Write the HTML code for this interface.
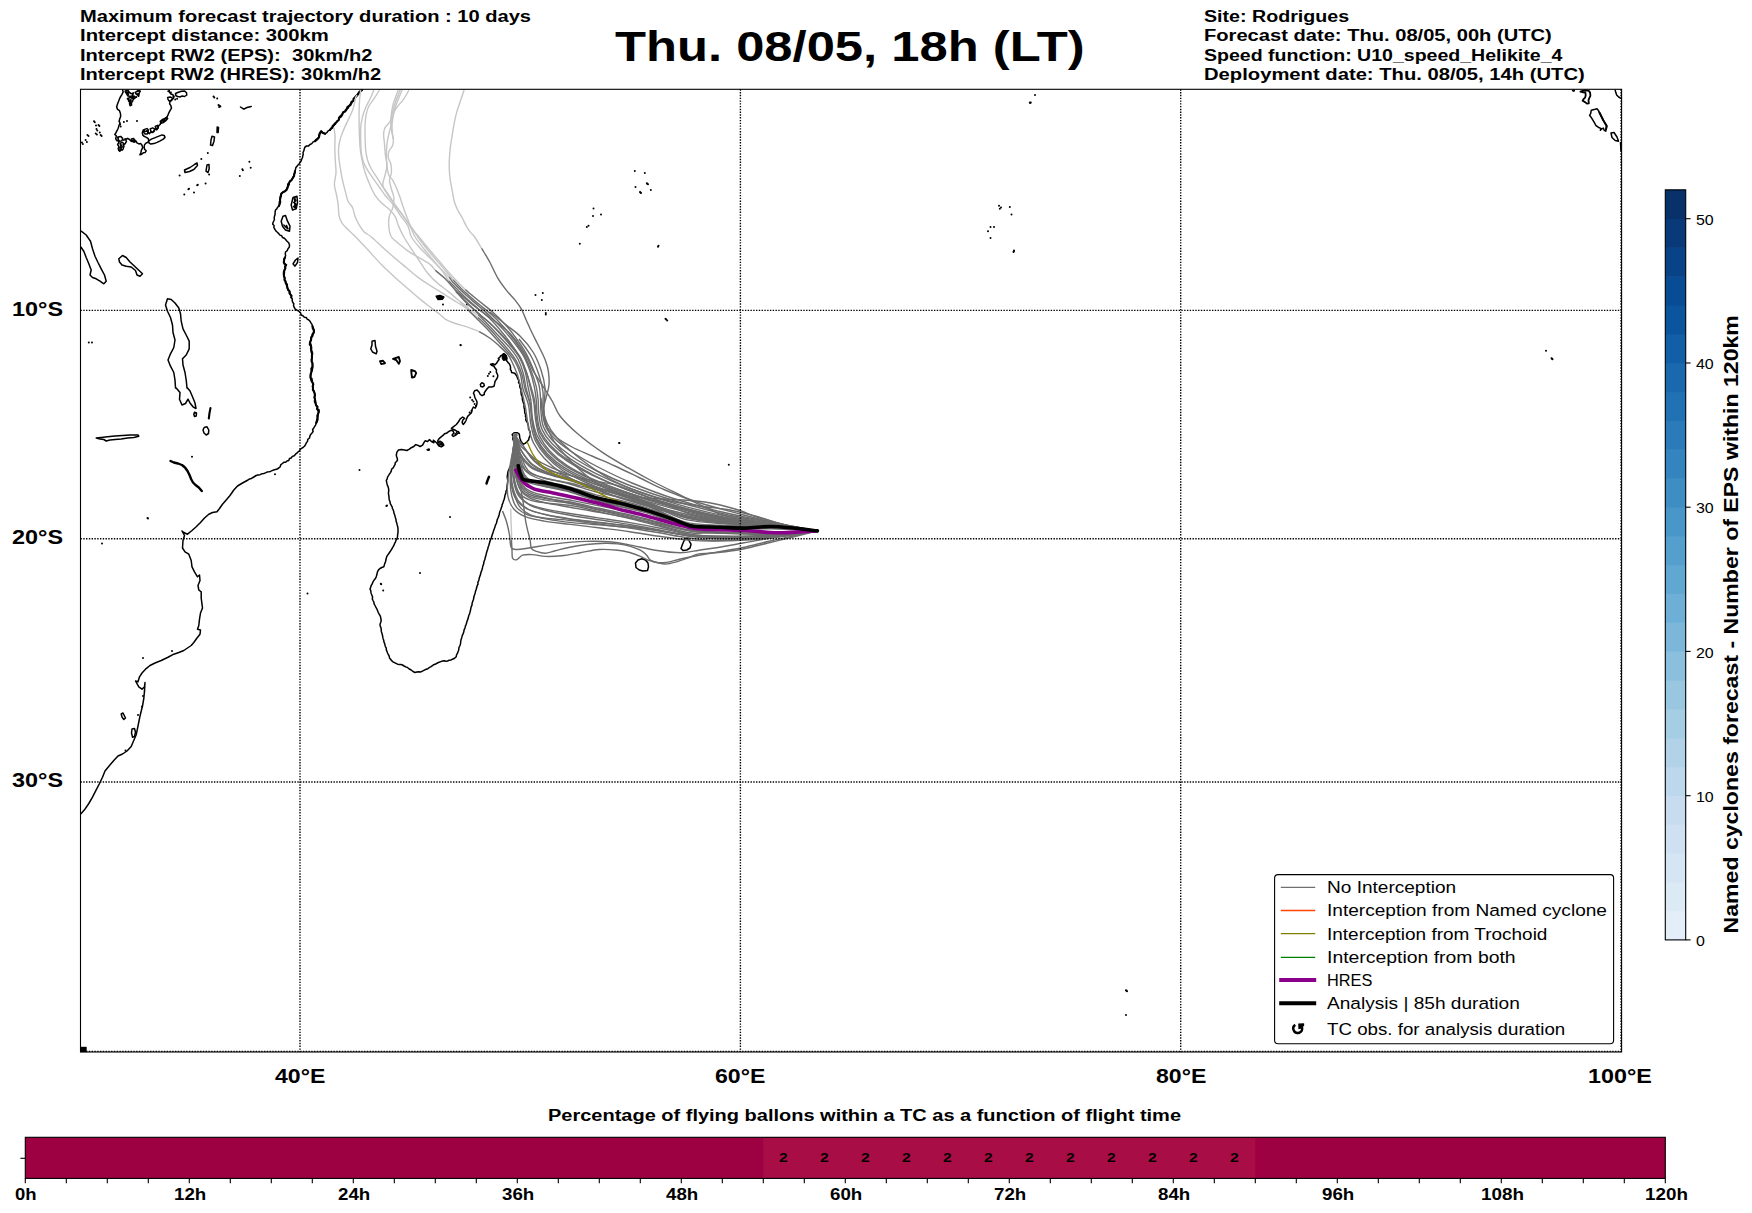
<!DOCTYPE html>
<html><head><meta charset="utf-8"><title>Forecast trajectories</title>
<style>
html,body{margin:0;padding:0;background:#fff}
body{width:1752px;height:1213px;position:relative;overflow:hidden;font-family:"Liberation Sans",sans-serif}
svg{position:absolute;left:0;top:0}
.t{position:absolute;white-space:pre;line-height:1;transform-origin:0 0;color:#000}
</style></head><body>
<svg width="1752" height="1213" viewBox="0 0 1752 1213">
<defs><clipPath id="mc"><rect x="80.5" y="89.3" width="1541.1" height="962.7"/></clipPath></defs>
<g clip-path="url(#mc)">
<g fill="none" stroke="#000" stroke-width="1.5" stroke-linejoin="round" stroke-linecap="round">
<path d="M362.0 90.0L360.8 91.2L359.4 92.3L358.7 94.0L357.3 95.0L355.7 95.8L355.0 97.5L353.5 98.6L353.4 100.7L352.2 102.1L351.4 103.7L349.9 104.8L348.8 106.2L348.3 108.0L346.7 108.8L345.5 109.9L344.8 111.5L343.3 112.3L342.5 113.8L341.3 115.1L341.0 117.1L339.3 118.1L338.6 119.8L337.4 121.1L336.2 122.5L335.5 124.0L333.9 124.8L333.2 126.3L332.5 127.8L331.0 128.7L330.0 130.0L328.1 130.9L326.8 132.7L325.0 133.8L322.9 132.8L321.2 131.2L320.8 132.9L319.4 134.1L318.7 135.7L318.8 137.5L317.3 138.6L315.8 139.6L315.0 141.2L313.1 141.9L311.8 143.6L310.0 144.5L308.6 145.9L306.6 146.0L305.0 147.0L304.3 148.8L303.9 150.7L303.0 152.5L303.2 154.2L302.8 155.8L302.5 157.5L301.7 159.2L301.1 161.0L300.0 162.5L299.2 163.9L298.0 165.0L297.0 166.2L295.8 167.7L295.5 169.5L295.0 171.2L294.8 172.9L294.3 174.5L293.6 176.0L293.0 177.5L292.3 179.0L291.3 180.3L290.0 181.2L289.3 182.9L289.2 184.8L288.0 186.2L287.0 187.9L286.2 189.7L285.0 191.2L283.0 192.2L281.2 193.8L280.5 195.8L280.1 197.9L280.0 200.0L279.3 202.0L279.4 204.2L278.8 206.2L277.5 207.3L276.8 208.9L275.5 210.0L275.1 212.1L275.1 214.2L274.5 216.2L274.2 217.8L274.4 219.5L273.8 221.0L273.0 222.5L272.7 224.2L274.1 225.5L273.8 227.3L274.5 228.8L275.4 230.1L276.4 231.5L277.7 232.5L278.8 233.8L279.9 235.1L281.7 235.8L282.5 237.5L284.4 238.3L285.8 239.7L287.0 241.2L288.7 242.8L289.5 245.0L289.3 247.1L288.0 248.8L287.2 250.7L285.5 252.0L285.3 253.8L285.6 255.7L285.0 257.5L283.9 259.0L283.9 260.8L283.8 262.5L285.0 263.8L286.2 265.0L285.4 266.6L285.4 268.5L284.5 270.0L283.6 271.6L283.5 273.3L283.8 275.0L283.9 276.7L284.7 278.1L284.6 279.8L285.5 281.2L285.6 283.0L286.3 284.7L287.0 286.2L287.3 288.2L288.5 289.7L289.5 291.2L290.1 292.8L290.3 294.4L291.3 295.8L291.2 297.5L292.3 298.9L292.2 300.8L292.7 302.3L293.8 303.8L293.5 305.6L294.1 307.2L295.0 308.8L296.8 310.1L298.8 311.2L300.5 312.8L301.2 315.0L302.9 315.8L304.3 317.2L306.2 317.5L307.2 319.1L308.8 320.0L310.0 321.2L310.9 322.9L312.0 324.4L312.5 326.2L313.4 328.2L314.0 330.3L313.8 332.5L312.4 333.9L311.9 335.7L311.2 337.5L311.4 339.3L310.5 340.9L310.0 342.5L311.0 344.3L311.1 346.2L310.6 348.2L311.2 350.0L311.2 351.9L311.7 353.7L312.1 355.6L312.0 357.5L311.9 359.4L311.6 361.3L312.5 363.1L312.5 365.0L312.8 367.0L312.5 368.9L312.2 370.7L311.2 372.5L310.3 374.1L310.7 375.8L310.5 377.5L310.7 379.4L312.3 380.6L312.5 382.5L313.0 384.3L312.5 386.2L313.0 388.0"/>
<path d="M293.0 197.5L297.0 196.2L297.5 202.5L296.2 208.8L292.5 210.0L291.2 205.0Z"/>
<path d="M283.0 216.2L285.5 215.5L287.5 221.2L290.0 226.2L289.5 231.2L285.5 230.0L282.5 226.2L281.2 221.2Z"/>
<path d="M293.0 263.8L295.5 260.0L298.0 258.0L297.5 262.5L295.0 266.2Z"/>
<path d="M80.0 231.2L81.2 231.2L86.2 235.0L90.5 241.2L92.5 248.8L95.0 256.2L98.0 262.5L101.2 268.8L104.5 275.0L106.2 281.2L103.8 283.8L100.0 281.2L96.2 278.8L92.5 277.5L90.0 275.0L91.2 270.0L88.8 263.8L86.2 257.5L83.8 251.2L81.2 247.5L80.0 246.2"/>
<path d="M118.8 258.8L122.5 255.5L126.2 257.5L130.0 262.0L133.8 265.5L138.0 269.5L142.5 273.8L140.0 276.2L137.0 275.0L135.5 270.5L131.2 267.0L126.2 266.2L122.0 265.0L119.5 262.0Z"/>
<path d="M175.5 388.0L175.0 380.0L173.8 372.5L170.5 366.2L168.0 360.0L170.5 353.8L173.8 347.5L175.0 340.0L173.0 332.5L172.5 325.0L170.5 317.5L167.5 311.2L165.5 305.0L167.5 298.8L171.2 299.5L175.0 303.0L178.8 308.0L180.5 313.8L181.2 321.2L183.0 328.8L186.2 335.0L189.2 341.2L189.2 348.8L186.2 355.0L182.5 358.8L183.0 365.0L185.0 372.5L186.2 380.0L187.0 388.0"/>
<path d="M122.6 90.0L123.2 91.9L122.0 94.4L120.1 97.5L118.8 100.7L117.6 103.8L116.6 106.9L117.6 109.4L119.5 110.7L120.4 113.2L120.7 116.3L119.8 118.8L119.1 121.3L120.1 123.2L119.1 125.1L118.2 128.2L117.0 130.7L115.7 133.2L114.8 134.5L116.3 135.8L115.7 138.9L117.0 140.8L118.2 140.1L118.8 142.6L117.6 144.5L118.8 146.4L118.2 148.9L119.5 150.8L120.7 149.2L122.0 150.2L123.2 148.9L123.9 146.4L123.2 144.5L125.1 143.9L126.4 141.4L125.7 139.5L127.6 138.3L129.5 139.5L131.4 141.4L133.3 140.1L134.5 142.0L135.8 140.8L137.0 142.9L138.9 143.9L140.8 143.6L142.0 145.2L142.7 147.7L141.4 150.2L140.8 152.7L139.9 154.9L141.7 154.2L143.3 152.7L145.2 152.4L146.2 150.8L144.5 149.2L144.2 147.0L144.5 144.9L145.8 143.3L147.7 142.4L148.7 140.8L148.3 138.6L146.4 137.4L144.2 136.4L142.7 134.9L142.3 132.6L143.3 130.4L145.2 129.1L147.0 128.6L148.3 130.1L147.7 132.4L149.5 133.6L150.8 132.0L152.7 132.6L153.9 130.7L155.2 128.9L156.7 129.9L157.9 128.2L158.7 125.7L160.2 124.5L160.8 122.3L162.5 120.7L164.0 121.3L165.0 119.1L166.5 117.8L167.7 115.7L168.7 113.2L170.0 110.7L171.5 108.2L170.9 105.7L169.6 103.8L170.0 101.3L171.5 99.8L173.4 98.5L174.0 96.5L173.0 94.8L170.9 94.0L169.6 92.3L169.2 90.3"/>
<path d="M148.7 140.8L151.4 139.1L155.2 137.6L158.9 136.1L162.1 134.9L164.2 135.4L165.0 137.4L163.3 139.1L160.2 140.8L157.1 142.4L153.9 143.6L150.8 144.1L148.9 142.9Z"/>
<path d="M175.5 93.5L178.4 92.3L181.5 91.3L184.6 91.0L186.5 92.8L186.8 95.0L184.6 96.5L182.1 96.0L180.3 96.9L177.7 96.5L175.9 95.7Z"/>
<path d="M126.4 92.5L128.9 91.9L131.4 93.8L133.3 92.8L132.6 95.7L130.1 96.5L127.6 95.7Z"/>
<path d="M128.2 98.2L130.8 97.5L133.3 99.0L132.4 101.9L130.1 102.8L128.6 101.0Z"/>
<path d="M129.5 103.5L131.4 103.2L131.6 105.1L130.1 105.7Z"/>
<path d="M135.1 92.5L138.3 90.6L140.2 91.3L138.9 93.5L136.4 94.4Z"/>
<path d="M143.3 130.1L145.2 131.6L147.0 130.7L148.7 132.6L147.0 134.1L144.9 133.9L143.7 132.4Z"/>
<path d="M150.2 128.9L152.7 127.9L154.9 129.1L153.9 131.6L151.4 132.4Z"/>
<path d="M155.2 126.4L157.4 125.4L158.3 127.6L156.4 129.1Z"/>
<path d="M118.2 137.0L120.7 136.4L122.6 138.3L122.0 140.8L119.8 141.4L118.2 139.5Z"/>
<path d="M120.1 143.3L122.6 142.4L124.1 144.1L123.2 146.7L121.1 147.4Z"/>
<path d="M118.8 147.7L120.7 147.0L121.4 149.5L119.8 151.2L118.6 149.9Z"/>
<path d="M131.4 139.1L133.6 138.6L135.1 140.4L133.9 142.0L132.0 141.4Z"/>
<path d="M160.2 121.3L162.1 119.8L164.2 118.8L166.5 117.3L167.7 118.6L165.8 120.7L163.3 122.6L161.2 123.2Z"/>
<path d="M167.7 97.5L170.2 96.9L172.5 98.2L171.5 100.7L169.2 101.0L168.0 99.4Z"/>
<path d="M294.0 198.8L296.0 200.5L293.8 202.5L296.5 204.5L293.5 206.5L296.0 208.0"/>
<path d="M295.0 197.5L294.5 202.5L295.5 207.5"/>
<path d="M283.8 225.0L286.2 227.5L288.0 228.8L286.5 225.5"/>
<path d="M125.1 91.0L126.6 93.8L129.1 92.8L128.2 90.6Z"/>
<path d="M132.0 96.9L134.1 96.0L135.8 97.5L133.9 99.0Z"/>
<path d="M137.0 94.4L139.1 94.0L138.6 96.3Z"/>
<path d="M129.1 100.0L131.1 101.0L129.9 102.5Z"/>
<path d="M217.2 127.0L218.5 127.5L218.2 132.5L217.0 132.5Z"/>
<path d="M212.0 136.2L214.5 137.0L214.0 141.2L212.5 145.5L210.5 145.0L211.0 140.0Z"/>
<path d="M184.5 170.0L190.0 167.5L194.5 164.5L197.0 163.0L197.5 165.5L193.8 169.5L189.5 171.5L185.0 172.5Z"/>
<path d="M207.0 165.0L209.0 164.5L209.2 168.8L208.0 172.5L206.0 171.2Z"/>
<path d="M240.5 107.0L243.8 109.2L247.0 107.5L251.2 106.5"/>
<path d="M372.0 341.2L375.0 340.5L375.5 346.2L377.0 351.2L376.2 353.8L372.5 352.0L370.8 348.8L372.0 345.0Z"/>
<path d="M380.0 361.2L383.0 360.8L385.0 363.2L381.2 364.0Z" stroke-width="1.9"/>
<path d="M393.0 358.8L398.8 357.0L400.0 361.2L398.8 363.8L396.2 360.0Z" stroke-width="1.9"/>
<path d="M411.2 370.0L415.0 371.2L416.2 373.0L414.5 377.0L412.0 377.5L411.5 373.8Z" stroke-width="1.9"/>
<path d="M436.2 296.2L440.0 295.5L443.8 297.0L442.5 299.2L438.0 299.5Z" fill="#000"/>
<path d="M313.0 388.0L312.9 389.8L314.2 391.3L314.5 393.0L315.3 395.0L314.3 397.2L315.0 399.2L315.7 401.3L315.5 403.5L316.2 405.5L317.4 406.9L317.2 408.7L317.6 410.4L318.8 411.8L318.0 413.8L318.1 416.0L317.5 418.0L316.8 419.6L317.2 421.5L316.2 423.0L315.7 424.8L314.7 426.4L313.8 428.0L312.6 429.5L313.1 431.5L312.0 433.0L310.7 434.4L309.9 436.1L309.5 438.0L307.8 439.3L307.5 441.4L306.2 443.0L305.5 444.8L304.4 446.2L303.0 447.5L301.5 448.3L300.2 449.3L299.5 451.0L298.0 451.9L296.8 453.2L295.5 454.2L294.3 455.7L292.3 456.4L291.2 458.0L289.5 458.5L288.8 460.5L287.0 461.0L285.7 462.2L283.8 462.2L282.5 463.5L280.8 464.7L280.2 466.7L278.8 468.0L277.2 469.0L275.5 469.4L273.8 470.0L272.1 470.6L270.5 471.4L268.8 471.8L267.0 472.1L265.4 472.9L263.8 473.5L261.8 473.8L260.0 474.7L258.0 475.0L256.2 475.5L254.6 476.5L253.0 477.5L251.4 478.4L249.5 478.9L248.0 480.0L242.5 483.0L237.5 486.0L233.8 490.0L230.0 495.5L226.2 500.0L222.5 504.2L219.5 508.5L217.0 511.8L212.5 512.5L208.8 514.2L204.5 518.0L200.5 522.5L196.2 526.8L192.0 530.5L187.5 534.2L183.8 532.5L182.0 531.0L184.5 535.5L183.0 540.5L182.5 548.0L185.0 551.8L188.8 554.2L191.2 560.5L192.0 566.8L194.5 571.8L197.5 576.8L199.5 575.0L200.0 580.5L198.0 585.5L198.8 590.0L201.2 591.8L201.2 598.0L202.0 604.2L202.5 608.0L200.5 613.0L199.5 619.2L198.8 625.5L197.5 629.2L200.5 630.0L200.0 634.2L197.0 638.0L193.8 642.5L191.2 645.5L187.5 648.0L183.8 650.5L178.8 652.5L173.8 654.2L167.5 657.5L161.2 660.5L155.0 663.0L150.0 665.5L145.5 669.2L142.0 673.0L139.5 676.8L138.0 681.8L135.5 681.0L138.8 686.8L142.0 689.2L144.5 686.8L145.0 682.5L144.5 691.0"/>
<path d="M176.2 388.0L180.0 392.5L179.5 399.2L182.0 405.0L185.5 403.5L188.0 399.2L190.0 403.0L193.0 406.8L196.0 408.5L195.0 403.0L192.5 396.8L190.0 391.0L187.5 388.0"/>
<path d="M194.5 412.2L196.5 413.0L196.2 416.0L194.5 416.5L193.8 414.2Z"/>
<path d="M204.2 427.5L207.0 426.8L208.8 430.0L208.5 433.5L206.2 435.0L204.0 433.0L203.0 430.0Z"/>
<path d="M210.5 408.0L209.5 413.0L208.8 418.5" stroke-width="2.1"/>
<path d="M96.2 438.0L101.2 437.5L107.5 436.8L115.0 436.0L122.5 435.5L130.0 435.0L138.0 435.0L138.8 436.2L133.8 437.5L127.5 438.0L121.2 439.0L115.0 439.5L110.0 440.0L106.2 441.0L103.8 439.5L100.0 439.0Z"/>
<path d="M170.5 461.0L173.8 462.5L178.0 463.5L182.0 465.0L185.0 467.5L187.5 471.0L189.5 475.0L191.2 479.2L193.0 482.5L195.5 485.0L198.8 487.5L201.8 491.0" stroke-width="2.4"/>
<path d="M489.0 476.8L487.5 480.5L486.5 483.5" stroke-width="2.4"/>
<path d="M144.5 691.0L143.8 698.5L142.5 706.0L140.0 716.0L138.0 726.0L136.2 734.8L133.0 742.2L131.2 746.5L127.0 751.0L122.5 754.0L118.0 756.0L113.8 760.5L109.5 765.5L105.0 771.0L102.5 777.2L99.5 783.5L96.2 789.8L92.5 797.2L88.8 803.5L84.5 809.8L80.0 814.8"/>
<path d="M121.2 714.0L123.0 713.0L124.5 716.0L125.5 718.0L123.8 719.5L122.0 717.0Z"/>
<path d="M132.0 729.0L134.5 728.5L135.5 732.2L134.5 736.5L132.5 737.2L131.5 733.0Z"/>
<path d="M635.5 563.0L638.0 560.0L641.8 558.8L645.5 560.0L648.0 563.0L648.5 566.8L647.5 570.5L643.0 571.0L639.2 570.0L636.0 567.5Z"/>
<path d="M686.0 538.5L688.0 538.0L689.2 541.0L691.0 544.2L690.0 548.0L686.8 550.0L683.0 550.5L681.0 548.5L682.5 544.2L684.2 540.5Z"/>
<path d="M393.8 511.9L393.3 510.1L392.5 508.5L392.1 506.8L391.3 505.4L390.3 503.6L390.0 501.6L389.2 499.8L389.0 497.8L388.9 495.9L388.5 494.1L388.5 492.2L388.8 490.3L388.5 488.4L388.1 486.6L387.3 485.1L386.9 483.4L386.3 480.3L387.2 478.9L387.5 477.2L388.5 475.6L389.4 474.0L390.5 472.6L391.3 470.9L391.7 469.0L393.2 467.8L394.1 466.2L395.0 464.6L395.2 462.8L396.5 461.5L397.5 460.1L397.3 458.4L396.7 456.8L396.3 455.2L396.9 452.1L398.5 450.0L401.3 449.6L404.4 450.0L406.9 450.5L409.4 449.2L411.3 447.7L413.8 446.5L415.7 444.6L417.6 445.2L420.1 446.5L422.6 445.2L423.9 442.7L425.1 440.8L427.6 441.5L429.5 439.6L431.4 441.5L433.9 442.7L433.3 440.2L435.1 441.5L437.0 443.3L438.9 445.8L441.4 446.7L443.7 445.2L442.0 443.3L438.9 442.7L437.6 440.8L438.9 438.9L440.8 437.1L443.3 435.2L444.5 433.7L446.4 433.3L448.9 431.4L451.4 430.2L453.1 431.0L453.9 432.7L452.1 435.2L453.3 436.4L454.9 435.6L456.4 434.6L457.8 433.3L459.6 433.3L458.3 431.4L456.6 431.2L455.2 430.2L453.3 429.3L451.4 428.3L453.9 426.4L456.4 424.5L458.3 422.0L459.3 420.5L460.2 418.9L462.7 417.0L464.6 418.3L462.7 420.2L462.1 422.7L463.3 424.5L465.2 422.0L466.0 420.5L466.5 418.9L467.7 416.4L469.6 414.5L471.5 412.6L472.1 409.5L473.4 407.0L475.2 408.2L476.5 405.7L477.1 402.6L476.7 401.0L475.9 399.5L475.1 398.0L474.6 396.3L474.2 394.7L473.4 393.2L474.6 390.7L477.1 390.1L479.0 392.0L480.3 394.5L482.1 395.7L484.3 394.5L484.3 392.7L485.3 391.3L487.1 388.8L489.0 386.9L491.5 386.9L494.0 386.3L494.7 383.2L495.0 381.5L495.9 380.1L497.5 377.5L497.8 375.6L497.2 373.8L496.3 372.0L496.5 370.0L494.7 367.5L493.7 366.0L491.5 365.3L490.5 364.2L492.8 363.7L495.1 364.7L496.5 363.3L497.9 361.0L499.2 359.6L498.3 358.3L499.7 357.4L500.6 356.0L502.0 355.1L503.8 353.7L506.1 355.5L507.0 358.3L506.5 360.5L507.9 362.4L509.3 363.7L510.2 365.6L510.6 367.9L510.3 369.4L511.3 370.8L511.6 372.5L514.7 373.2L516.6 375.7L517.2 377.2L517.8 378.8L518.9 380.6L518.5 382.6L519.8 384.2L519.7 386.3L520.2 388.0L521.1 389.5L521.0 391.3L521.1 393.1L521.4 394.8L522.2 396.3L522.3 398.0L522.4 399.7L522.9 401.4L523.4 403.0L524.2 404.6L523.9 406.4L524.2 408.0L524.6 409.7L524.7 411.4L524.8 413.1L525.7 414.7L525.4 416.4L526.2 418.0L525.7 419.8L526.6 421.4L527.6 423.0L528.0 424.7L528.5 426.4L528.5 428.8L529.7 430.8L530.4 433.9L530.1 435.9L529.1 437.7L528.7 439.8L527.2 441.5L525.4 443.3L522.9 444.2L522.2 442.7L521.0 441.5L520.4 439.5L519.7 437.7L519.6 435.8L519.1 433.9L517.2 432.7L514.1 432.7L512.2 434.6L513.2 436.7L512.8 438.9L513.6 441.1L514.1 443.3L515.1 445.4L514.7 447.7L515.9 449.4L516.3 451.5L516.2 453.7L516.6 455.9L516.6 458.2L515.3 460.3L515.0 462.2L514.1 464.0L511.6 465.9L509.8 467.0L509.1 469.0L508.3 470.8L507.8 472.8L507.5 474.7L507.2 476.5L507.4 478.4L507.8 480.3L507.6 482.2L507.4 484.2L507.1 486.1L507.0 488.0L506.7 489.7L506.0 491.3L505.9 493.0L505.2 494.6L504.8 496.3L504.5 498.0L504.0 499.7L503.4 501.3L502.9 503.0L502.2 504.6L501.9 506.4L501.2 508.0L500.7 509.7L500.0 511.3L499.5 512.9L499.2 514.7L498.6 516.4L498.0 518.0L497.2 519.7L496.9 521.5L496.4 523.3L495.5 525.0L495.0 526.8L494.4 528.5L493.7 530.2L493.2 532.0L492.6 533.7L492.0 535.5L491.5 537.2L491.0 538.9L490.2 540.5L489.8 542.1L489.2 543.8L488.8 545.5L488.1 547.2L487.8 549.0L487.1 550.7L486.6 552.5L486.2 554.2L485.7 556.0L485.2 557.7L484.9 559.5L484.1 561.2L483.8 563.0L483.4 564.8L482.7 566.5L482.4 568.3L481.9 570.0L481.2 571.8L480.7 573.5L480.3 575.3L479.6 577.0L479.1 578.7L478.8 580.5L477.9 582.2L478.0 584.1L477.2 585.7L476.7 587.5L476.2 589.2L475.6 591.0L475.2 592.7L474.7 594.5L474.0 596.2L473.8 598.0L473.3 599.8L472.7 601.5L472.1 603.2L472.0 605.1L471.2 606.8L470.8 608.5L470.5 610.3L470.0 612.1L469.6 613.8L468.8 615.5L468.4 617.3L467.9 619.1L467.2 620.7L466.7 622.5L466.2 624.2L465.4 626.1L465.0 628.0L464.1 629.8L463.8 631.8L463.2 633.6L462.3 635.4L461.8 637.4L461.2 639.2L460.7 641.3L460.6 643.4L460.0 645.5L459.2 647.0L458.8 648.6L458.7 650.3L458.0 651.8L457.4 653.4L456.5 655.0L456.2 656.8L454.6 658.3L452.5 659.2L450.9 660.0L449.1 660.3L447.5 661.0L445.8 661.3L444.2 660.8L442.5 661.0L440.8 661.6L439.1 662.2L437.5 663.0L435.6 664.0L433.7 664.7L432.0 666.0L430.6 666.9L429.1 667.6L427.8 668.7L426.2 669.2L424.3 670.1L422.4 671.1L420.5 672.0L418.6 671.8L416.8 672.0L415.0 672.5L413.0 671.5L411.2 670.0L409.2 669.0L407.5 667.5L405.7 666.9L404.1 666.0L402.5 665.0L400.9 664.6L399.2 664.5L397.5 664.2L396.0 663.4L394.5 662.6L393.0 661.8L391.6 660.7L390.6 659.3L389.5 658.0L389.2 656.2L388.4 654.6L387.5 653.0L387.0 651.4L386.3 649.9L386.3 648.2L385.5 646.8L385.0 645.2L384.7 643.6L384.0 642.1L383.8 640.5L383.2 638.9L382.8 637.2L382.5 635.5L382.0 633.4L381.3 631.4L381.2 629.2L380.9 627.6L380.2 626.0L380.0 624.2L380.7 622.4L381.2 620.5L380.9 618.8L380.6 617.1L380.0 615.5L379.0 613.9L378.2 612.2L377.5 610.5L376.8 608.8L375.8 607.2L375.0 605.5L374.1 603.9L373.9 602.1L373.0 600.5L372.3 598.9L372.6 597.1L372.0 595.5L371.4 594.0L370.9 592.4L370.8 590.7L370.0 589.2L370.6 587.4L371.2 585.5L372.2 583.9L372.9 582.1L373.8 580.5L375.2 578.8L376.2 576.8L376.8 575.1L377.1 573.4L377.5 571.8L378.5 569.9L380.0 568.5L381.8 567.5L383.8 566.8L384.3 565.1L384.8 563.4L385.5 561.8L386.0 559.8L386.3 557.9L387.0 556.0L388.0 554.6L389.0 553.2L390.0 551.8L391.1 550.1L392.1 548.5L393.0 546.8L394.0 545.2L394.6 543.4L395.5 541.8L396.1 540.1L397.1 538.5L397.5 536.8L397.6 534.7L398.0 532.6L398.0 530.5L398.0 528.4L397.6 526.3L397.0 524.2L396.7 522.7L396.1 521.2L396.0 519.5L395.5 518.0L395.0 516.1L394.4 514.3L393.8 512.5Z"/>
<path d="M502.4 355.3L503.8 353.9L505.6 355.6L506.2 357.9L505.8 359.8L503.6 360.2L502.5 358.6Z" fill="#000"/>
<path d="M480.3 384.4L481.8 382.8L483.8 383.6L484.3 385.7L482.8 386.9L480.9 386.6Z"/>
<path d="M437.9 442.1L439.9 441.2L442.4 442.7L443.7 445.0L442.0 446.5L439.5 446.2L437.9 444.2Z"/>
<path d="M1580.4 91.7L1582.6 90.8L1585.7 90.4L1588.8 90.8L1590.1 92.6L1590.4 95.8L1589.5 97.7L1588.5 100.2L1588.8 103.3L1586.9 103.6L1585.1 102.1L1582.6 100.8L1583.5 99.2L1585.1 97.7L1585.7 95.2L1585.4 92.6L1583.2 92.3Z" stroke-width="1.8"/>
<path d="M1591.3 110.2L1593.9 109.6L1597.0 108.7L1598.2 110.2L1599.5 112.7L1601.4 116.5L1603.3 120.3L1605.2 123.4L1606.7 125.9L1606.1 129.1L1605.8 131.2L1604.2 130.3L1603.3 128.1L1601.4 129.1L1600.4 130.3L1600.8 128.4L1598.2 127.2L1595.7 125.3L1594.5 122.8L1592.6 119.6L1591.0 117.1L1589.6 115.6L1590.7 113.4Z"/>
<path d="M1599.5 112.7L1601.4 116.5L1603.3 120.3L1605.2 123.4L1606.7 125.9L1606.1 129.1" stroke-width="2.0"/>
<path d="M1615.2 90.1L1615.8 92.6L1616.8 95.2L1618.7 97.0L1620.8 98.3L1621.6 98.6"/>
<path d="M1611.0 133.0L1614.0 132.5L1617.0 137.0L1618.5 141.2L1615.2 140.5L1612.0 137.5Z"/>
<path d="M1620.5 142.5L1621.0 151.2"/>
<path d="M295.0 171.2L294.7 172.9L294.1 174.4L294.1 176.1L293.0 177.5L292.2 178.9L291.4 180.3L290.0 181.2L289.1 182.8L288.0 184.3L288.0 186.2L287.4 188.2L286.6 189.9L285.0 191.2L282.9 192.2L281.2 193.8L281.0 195.9L280.4 197.9L280.0 200.0L280.2 202.2L279.6 204.3L278.8 206.2L278.8 206.2" stroke-width="2.1"/>
<path d="M285.0 257.5L284.3 259.1L284.0 260.8L283.8 262.5L284.6 264.1L286.2 265.0L285.0 266.4L285.3 268.4L284.5 270.0L284.1 271.6L284.1 273.3L283.8 275.0L284.2 276.6L284.8 278.1L284.4 279.9L285.5 281.2L285.8 283.0L287.0 284.4L287.0 286.2L287.6 288.0L288.0 289.9L289.5 291.2L289.4 293.0L290.3 294.4L291.5 295.7L291.2 297.5L291.2 297.5" stroke-width="2.1"/>
<path d="M362.0 90.0L360.5 90.9L359.2 92.1L358.2 93.5L357.4 95.1L356.3 96.4L355.0 97.5L353.7 98.7L353.4 100.7L351.6 101.6L350.9 103.3L350.4 105.1L348.8 106.2L347.4 107.2L346.8 108.8L346.1 110.4L345.0 111.6L343.1 112.2L342.5 113.8L341.8 115.5L340.1 116.4L339.0 117.9L338.8 120.0L337.3 121.1L336.2 122.5L334.8 123.5L334.1 125.0L332.7 125.9L332.2 127.6L330.9 128.6L330.0 130.0L330.0 130.0" stroke-width="2.1"/>
<path d="M325.0 133.8L322.9 132.9L321.2 131.2L320.1 132.6L319.5 134.2L319.3 135.9L318.8 137.5L317.7 138.9L316.4 140.1L315.0 141.2L315.0 141.2" stroke-width="2.1"/>
<path d="M312.5 326.2L312.8 328.4L313.9 330.3L313.8 332.5L312.9 334.2L312.4 336.0L311.2 337.5L311.1 339.2L310.7 340.9L310.0 342.5L309.8 344.5L311.1 346.2L311.3 348.1L311.2 350.0L311.9 351.8L312.3 353.7L311.9 355.6L312.0 357.5L311.6 359.4L311.6 361.3L312.4 363.1L312.5 365.0L312.3 366.9L311.3 368.7L311.5 370.6L311.2 372.5L310.9 374.2L310.5 375.8L310.5 377.5L311.8 378.9L311.4 381.0L312.5 382.5L313.3 384.3L312.8 386.2L313.0 388.0L312.9 389.9L313.9 391.4L314.5 393.0L314.9 395.1L314.5 397.2L315.0 399.2L314.8 401.5L315.7 403.5L316.2 405.5L317.5 406.8L317.0 408.8L318.8 409.9L318.8 411.8L318.1 413.8L317.3 415.8L317.5 418.0L317.6 419.8L316.6 421.3L316.2 423.0L316.2 423.0" stroke-width="2.1"/>
</g>
<g fill="#000">
<circle cx="88.8" cy="342.5" r="1.0"/>
<circle cx="92.0" cy="342.5" r="1.0"/>
<circle cx="443.0" cy="304.5" r="1.0"/>
<circle cx="467.0" cy="304.5" r="1.0"/>
<circle cx="460.5" cy="345.0" r="1.0"/>
<circle cx="125.7" cy="91.9" r="1.0"/>
<circle cx="128.2" cy="94.4" r="1.0"/>
<circle cx="133.9" cy="97.5" r="1.0"/>
<circle cx="136.4" cy="96.9" r="1.0"/>
<circle cx="127.6" cy="98.8" r="1.0"/>
<circle cx="137.6" cy="91.3" r="1.0"/>
<circle cx="139.5" cy="91.0" r="1.0"/>
<circle cx="130.8" cy="100.0" r="1.0"/>
<circle cx="117.6" cy="137.6" r="1.0"/>
<circle cx="123.9" cy="140.1" r="1.0"/>
<circle cx="121.4" cy="145.2" r="1.0"/>
<circle cx="125.1" cy="138.9" r="1.0"/>
<circle cx="135.1" cy="141.4" r="1.0"/>
<circle cx="161.5" cy="122.6" r="1.0"/>
<circle cx="163.3" cy="120.7" r="1.0"/>
<circle cx="166.5" cy="118.2" r="1.0"/>
<circle cx="173.4" cy="96.3" r="1.0"/>
<circle cx="175.2" cy="99.4" r="1.0"/>
<circle cx="177.1" cy="98.8" r="1.0"/>
<circle cx="170.9" cy="92.5" r="1.0"/>
<circle cx="168.3" cy="91.3" r="1.0"/>
<circle cx="123.9" cy="122.0" r="1.0"/>
<circle cx="127.0" cy="121.1" r="1.0"/>
<circle cx="137.0" cy="121.1" r="1.0"/>
<circle cx="120.1" cy="124.5" r="1.0"/>
<circle cx="120.7" cy="126.4" r="1.0"/>
<circle cx="94.0" cy="121.3" r="1.0"/>
<circle cx="94.8" cy="122.3" r="1.0"/>
<circle cx="96.0" cy="125.4" r="1.0"/>
<circle cx="98.5" cy="125.1" r="1.0"/>
<circle cx="99.4" cy="126.1" r="1.0"/>
<circle cx="96.5" cy="128.9" r="1.0"/>
<circle cx="97.3" cy="130.4" r="1.0"/>
<circle cx="95.7" cy="133.6" r="1.0"/>
<circle cx="96.9" cy="134.5" r="1.0"/>
<circle cx="99.8" cy="132.6" r="1.0"/>
<circle cx="100.7" cy="134.9" r="1.0"/>
<circle cx="101.6" cy="136.1" r="1.0"/>
<circle cx="87.5" cy="135.1" r="1.0"/>
<circle cx="88.5" cy="136.1" r="1.0"/>
<circle cx="85.6" cy="140.1" r="1.0"/>
<circle cx="86.9" cy="142.0" r="1.0"/>
<circle cx="81.9" cy="142.6" r="1.0"/>
<circle cx="82.8" cy="143.9" r="1.0"/>
<circle cx="213.5" cy="96.5" r="1.0"/>
<circle cx="214.3" cy="97.5" r="1.0"/>
<circle cx="217.2" cy="98.5" r="1.0"/>
<circle cx="218.5" cy="105.1" r="1.0"/>
<circle cx="219.7" cy="105.7" r="1.0"/>
<circle cx="220.4" cy="106.6" r="1.0"/>
<circle cx="219.1" cy="106.9" r="1.0"/>
<circle cx="207.8" cy="153.0" r="1.0"/>
<circle cx="201.3" cy="158.9" r="1.0"/>
<circle cx="209.1" cy="174.6" r="1.0"/>
<circle cx="179.6" cy="175.5" r="1.0"/>
<circle cx="205.6" cy="183.4" r="1.0"/>
<circle cx="197.2" cy="185.3" r="1.0"/>
<circle cx="197.8" cy="184.7" r="1.0"/>
<circle cx="189.0" cy="188.8" r="1.0"/>
<circle cx="188.4" cy="189.3" r="1.0"/>
<circle cx="194.0" cy="192.5" r="1.0"/>
<circle cx="184.3" cy="194.6" r="1.0"/>
<circle cx="249.4" cy="161.7" r="1.0"/>
<circle cx="250.7" cy="167.7" r="1.0"/>
<circle cx="242.9" cy="170.2" r="1.0"/>
<circle cx="242.3" cy="169.2" r="1.0"/>
<circle cx="239.8" cy="175.9" r="1.0"/>
<circle cx="192.0" cy="456.8" r="1.0"/>
<circle cx="147.5" cy="518.0" r="1.0"/>
<circle cx="148.0" cy="518.5" r="1.0"/>
<circle cx="102.0" cy="543.5" r="1.0"/>
<circle cx="275.0" cy="474.2" r="1.0"/>
<circle cx="359.5" cy="470.0" r="1.0"/>
<circle cx="387.0" cy="505.5" r="1.0"/>
<circle cx="450.0" cy="517.0" r="1.0"/>
<circle cx="420.0" cy="573.0" r="1.0"/>
<circle cx="307.5" cy="593.5" r="1.0"/>
<circle cx="381.2" cy="584.2" r="1.0"/>
<circle cx="380.8" cy="583.8" r="1.0"/>
<circle cx="383.2" cy="590.5" r="1.0"/>
<circle cx="143.0" cy="658.0" r="1.0"/>
<circle cx="172.0" cy="651.0" r="1.0"/>
<circle cx="428.8" cy="449.2" r="1.0"/>
<circle cx="440.0" cy="444.2" r="1.0"/>
<circle cx="138.0" cy="715.0" r="1.0"/>
<circle cx="142.0" cy="706.5" r="1.0"/>
<circle cx="143.0" cy="696.0" r="1.0"/>
<circle cx="125.5" cy="750.5" r="1.0"/>
<circle cx="634.8" cy="171.0" r="1.0"/>
<circle cx="644.8" cy="173.0" r="1.0"/>
<circle cx="646.8" cy="183.2" r="1.0"/>
<circle cx="648.0" cy="184.2" r="1.0"/>
<circle cx="647.2" cy="183.8" r="1.0"/>
<circle cx="635.5" cy="187.0" r="1.0"/>
<circle cx="640.0" cy="192.0" r="1.0"/>
<circle cx="641.0" cy="193.0" r="1.0"/>
<circle cx="640.5" cy="192.5" r="1.0"/>
<circle cx="650.8" cy="190.0" r="1.0"/>
<circle cx="593.5" cy="208.5" r="1.0"/>
<circle cx="593.0" cy="216.0" r="1.0"/>
<circle cx="601.0" cy="214.5" r="1.0"/>
<circle cx="588.5" cy="225.8" r="1.0"/>
<circle cx="586.8" cy="227.0" r="1.0"/>
<circle cx="579.8" cy="243.8" r="1.0"/>
<circle cx="658.0" cy="246.8" r="1.0"/>
<circle cx="658.5" cy="245.8" r="1.0"/>
<circle cx="542.8" cy="293.0" r="1.0"/>
<circle cx="535.5" cy="295.0" r="1.0"/>
<circle cx="541.8" cy="300.0" r="1.0"/>
<circle cx="545.8" cy="313.0" r="1.0"/>
<circle cx="545.8" cy="314.5" r="1.0"/>
<circle cx="665.5" cy="318.8" r="1.0"/>
<circle cx="667.2" cy="320.5" r="1.0"/>
<circle cx="666.2" cy="319.5" r="1.0"/>
<circle cx="619.2" cy="443.0" r="1.0"/>
<circle cx="728.8" cy="464.8" r="1.0"/>
<circle cx="386.3" cy="506.0" r="1.0"/>
<circle cx="427.4" cy="449.7" r="1.0"/>
<circle cx="428.4" cy="450.0" r="1.0"/>
<circle cx="429.1" cy="449.7" r="1.0"/>
<circle cx="490.3" cy="371.9" r="1.0"/>
<circle cx="489.0" cy="373.8" r="1.0"/>
<circle cx="487.8" cy="376.0" r="1.0"/>
<circle cx="493.4" cy="376.3" r="1.0"/>
<circle cx="455.2" cy="433.9" r="1.0"/>
<circle cx="456.7" cy="432.7" r="1.0"/>
<circle cx="473.4" cy="401.4" r="1.0"/>
<circle cx="474.6" cy="403.9" r="1.0"/>
<circle cx="475.9" cy="405.7" r="1.0"/>
<circle cx="472.1" cy="400.1" r="1.0"/>
<circle cx="470.2" cy="397.6" r="1.0"/>
<circle cx="469.6" cy="412.6" r="1.0"/>
<circle cx="471.5" cy="410.8" r="1.0"/>
<circle cx="441.3" cy="444.3" r="1.0"/>
<circle cx="441.5" cy="444.5" r="1.0"/>
<circle cx="441.0" cy="444.0" r="1.0"/>
<circle cx="460.7" cy="345.3" r="1.0"/>
<circle cx="619.4" cy="443.0" r="1.0"/>
<circle cx="1035.0" cy="95.0" r="1.0"/>
<circle cx="1030.2" cy="103.0" r="1.0"/>
<circle cx="1030.8" cy="102.5" r="1.0"/>
<circle cx="1029.8" cy="102.5" r="1.0"/>
<circle cx="999.0" cy="205.8" r="1.0"/>
<circle cx="1001.0" cy="207.5" r="1.0"/>
<circle cx="999.8" cy="208.8" r="1.0"/>
<circle cx="1009.8" cy="207.0" r="1.0"/>
<circle cx="1011.5" cy="214.5" r="1.0"/>
<circle cx="990.5" cy="227.0" r="1.0"/>
<circle cx="994.0" cy="227.0" r="1.0"/>
<circle cx="988.0" cy="231.2" r="1.0"/>
<circle cx="990.5" cy="238.0" r="1.0"/>
<circle cx="1014.0" cy="250.5" r="1.0"/>
<circle cx="1013.5" cy="252.0" r="1.0"/>
<circle cx="1013.8" cy="251.2" r="1.0"/>
<circle cx="1573.8" cy="90.8" r="1.0"/>
<circle cx="1572.8" cy="90.4" r="1.0"/>
<circle cx="1546.0" cy="350.8" r="1.0"/>
<circle cx="1552.0" cy="358.8" r="1.0"/>
<circle cx="1551.5" cy="358.2" r="1.0"/>
<circle cx="1552.5" cy="359.2" r="1.0"/>
<circle cx="1574.0" cy="90.5" r="1.0"/>
<circle cx="1126.5" cy="990.8" r="1.0"/>
<circle cx="1127.0" cy="991.2" r="1.0"/>
<circle cx="1126.0" cy="990.2" r="1.0"/>
<circle cx="1126.0" cy="1015.0" r="1.0"/>
</g>
<g fill="none" stroke="#c6c6c6" stroke-width="1.4" stroke-linejoin="round">
<path d="M479.1 331.6C475.3 329.7 471.8 328.6 467.8 327.2C463.8 325.8 459.1 324.9 455.3 323.5C451.6 322.1 447.8 320.6 445.3 319.1C442.8 317.6 442.8 316.7 440.3 314.7C437.8 312.7 434.1 310.1 430.3 307.2C426.5 304.3 422.7 301.3 417.7 297.1C412.7 292.9 406.0 287.3 400.2 282.1C394.4 276.9 388.0 271.2 382.6 265.8C377.2 260.4 372.1 254.3 367.6 249.5C363.1 244.7 359.1 240.4 355.7 237.0C352.3 233.6 349.8 231.5 347.5 229.1C345.2 226.7 343.3 225.1 341.9 222.8C340.5 220.5 339.6 218.4 339.0 215.3C338.4 212.2 338.6 207.6 338.1 204.0C337.7 200.4 336.9 197.3 336.3 194.0C335.7 190.7 334.4 187.6 334.4 184.0C334.3 180.4 335.9 176.7 336.0 172.7C336.1 168.7 335.5 164.4 335.3 160.2C335.1 156.0 334.9 151.9 334.8 147.7C334.8 143.5 335.2 138.4 335.0 135.1C334.8 131.8 334.0 128.8 333.8 127.6"/>
<path d="M467.8 309.7C465.3 307.4 465.3 307.6 462.8 305.9C460.3 304.2 456.1 301.8 452.8 299.7C449.5 297.6 446.1 295.5 442.8 293.4C439.5 291.3 437.0 289.8 432.8 287.1C428.6 284.4 422.7 280.9 417.7 277.1C412.7 273.4 407.9 269.0 402.7 264.6C397.5 260.2 391.6 255.4 386.4 250.8C381.2 246.2 375.0 240.1 371.4 237.0C367.8 233.9 366.5 234.1 364.5 232.2C362.5 230.3 361.0 228.0 359.4 225.4C357.8 222.8 356.2 219.5 355.1 216.6C354.0 213.7 353.8 210.3 352.6 207.8C351.5 205.3 349.4 204.0 348.2 201.5C347.0 199.0 346.6 196.4 345.7 192.8C344.8 189.2 343.5 184.8 342.5 180.2C341.5 175.6 340.5 169.8 339.8 165.2C339.1 160.6 338.6 156.5 338.5 152.7C338.4 148.9 338.7 145.9 339.4 142.6C340.1 139.2 341.1 136.2 342.5 132.6C343.9 129.0 345.8 125.0 347.5 121.3C349.2 117.5 351.2 114.1 352.6 110.1C354.0 106.1 355.0 100.0 355.7 97.5C356.4 95.0 356.8 95.4 357.0 95.0"/>
<path d="M478.0 317.5C475.0 314.9 472.1 313.9 470.4 312.2C468.7 310.5 469.9 309.3 467.8 307.2C465.7 305.1 460.9 302.2 457.8 299.7C454.7 297.2 452.3 294.8 449.0 292.1C445.7 289.4 441.4 286.5 437.8 283.4C434.2 280.3 430.6 276.9 427.7 273.3C424.8 269.8 422.7 265.9 420.2 262.1C417.7 258.4 415.4 255.0 412.7 250.8C410.0 246.6 406.3 241.2 403.9 237.0C401.5 232.8 399.8 228.8 398.3 225.4C396.9 222.0 396.8 219.3 395.2 216.6C393.6 213.9 391.2 211.4 388.9 209.1C386.6 206.8 383.7 205.1 381.4 202.8C379.1 200.5 377.0 198.2 375.1 195.3C373.2 192.4 371.8 189.1 370.1 185.3C368.4 181.5 366.5 176.9 365.1 172.7C363.8 168.5 362.8 164.4 362.0 160.2C361.2 156.0 360.5 151.9 360.1 147.7C359.7 143.5 359.6 139.3 359.4 135.1C359.2 130.9 359.2 126.8 359.1 122.6C359.1 118.4 359.0 114.3 359.1 110.1C359.2 105.9 359.5 100.8 359.8 97.5C360.1 94.2 360.6 91.2 360.7 90.0"/>
<path d="M478.2 315.0C474.6 312.2 471.0 311.2 468.0 309.0C465.0 306.8 461.3 303.2 460.0 302.0"/>
<path d="M435.3 270.2C432.9 267.9 432.8 266.6 430.3 264.6C427.8 262.6 424.0 260.6 420.2 258.3C416.4 256.0 411.9 253.7 407.7 250.8C403.5 247.9 397.9 243.1 395.2 240.8C392.5 238.5 392.3 238.4 391.4 236.9C390.4 235.4 390.0 233.9 389.5 231.6C389.0 229.2 388.6 225.5 388.6 222.8C388.6 220.1 388.8 217.8 389.5 215.3C390.2 212.8 392.0 210.7 392.7 207.8C393.4 204.9 394.1 200.9 393.9 197.8C393.7 194.7 392.1 191.9 391.4 189.0C390.7 186.1 389.5 182.9 389.5 180.2C389.5 177.5 391.2 175.4 391.4 172.7C391.6 170.0 391.3 166.4 390.8 163.9C390.3 161.4 388.6 159.8 388.3 157.7C388.0 155.6 388.2 153.5 388.9 151.4C389.6 149.3 392.0 147.3 392.7 145.2C393.4 143.1 393.5 141.4 393.3 138.9C393.1 136.4 391.8 133.0 391.4 130.1C391.0 127.2 390.8 124.0 390.8 121.3C390.8 118.6 391.0 116.7 391.4 113.8C391.8 110.9 392.1 107.8 393.3 103.8C394.5 99.8 397.5 92.3 398.3 90.0"/>
<path d="M449.0 280.9C447.1 278.5 445.5 275.3 443.0 272.0C440.5 268.7 437.2 264.8 434.0 261.0C430.8 257.2 427.1 253.0 424.0 249.0C420.9 245.0 417.5 240.7 415.2 237.0C412.9 233.3 412.3 230.2 410.2 226.6C408.1 223.0 405.2 218.9 402.7 215.3C400.2 211.8 397.5 208.6 395.2 205.3C392.9 202.0 391.0 198.4 388.9 195.3C386.8 192.2 384.6 189.4 382.6 186.5C380.6 183.6 378.9 180.6 377.0 177.7C375.1 174.8 373.0 171.9 371.4 169.0C369.8 166.1 368.6 163.3 367.6 160.2C366.7 157.1 366.1 154.0 365.7 150.2C365.3 146.4 365.2 142.0 365.1 137.6C365.0 133.2 364.9 127.8 365.1 123.8C365.3 119.8 365.7 116.7 366.3 113.8C366.9 110.9 367.5 108.8 368.8 106.3C370.1 103.8 372.1 101.5 373.9 98.8C375.7 96.1 378.6 91.5 379.5 90.0"/>
<path d="M449.0 277.1C446.7 274.6 443.2 271.2 440.0 268.0C436.8 264.8 433.3 261.3 430.0 258.0C426.7 254.7 423.1 251.5 420.0 248.0C416.9 244.5 413.6 240.8 411.5 237.0C409.4 233.2 409.6 229.0 407.7 225.4C405.8 221.8 402.7 218.9 400.2 215.3C397.7 211.7 395.2 207.3 392.7 204.0C390.2 200.7 387.4 198.2 385.1 195.3C382.8 192.4 381.0 189.4 378.9 186.5C376.8 183.6 374.5 180.4 372.6 177.7C370.7 175.0 369.2 172.9 367.6 170.2C366.0 167.5 364.2 164.3 363.2 161.4C362.1 158.5 361.7 156.2 361.3 152.7C360.9 149.1 360.8 144.3 360.7 140.1C360.6 135.9 360.4 131.3 360.7 127.6C361.0 123.8 361.5 120.9 362.3 117.6C363.1 114.3 364.4 110.7 365.7 107.6C367.0 104.5 368.7 101.7 370.1 98.8C371.5 95.9 373.3 91.5 373.9 90.0"/>
<path d="M452.9 279.6C449.5 275.8 448.5 274.1 445.0 270.0C441.5 265.9 436.2 260.0 432.0 255.0C427.8 250.0 423.3 244.5 420.0 240.0C416.7 235.5 414.7 231.8 412.0 228.0C409.3 224.2 406.7 220.7 404.0 217.0C401.3 213.3 398.7 209.7 396.0 206.0C393.3 202.3 390.2 198.4 388.0 195.0C385.8 191.6 383.4 188.6 382.9 185.3C382.4 182.0 384.4 178.5 385.1 175.2C385.8 171.8 386.9 168.5 387.0 165.2C387.1 161.9 385.8 158.8 385.4 155.2C385.0 151.6 384.8 147.4 384.5 143.9C384.2 140.4 383.5 136.6 383.6 133.9C383.7 131.2 384.0 129.7 385.1 127.6C386.2 125.5 388.9 124.0 390.2 121.3C391.5 118.6 391.8 114.6 392.7 111.3C393.6 108.0 394.6 104.8 395.8 101.3C397.1 97.8 399.5 91.9 400.2 90.0"/>
<path d="M465.3 289.6C460.8 285.4 456.2 280.6 452.0 276.0C447.8 271.4 444.0 266.7 440.0 262.0C436.0 257.3 431.5 252.2 428.0 248.0C424.5 243.8 421.8 240.3 419.0 237.0C416.2 233.7 413.4 230.9 411.5 227.9C409.6 224.9 409.0 222.2 407.7 219.1C406.4 216.0 405.1 212.6 403.9 209.1C402.6 205.6 401.4 201.4 400.2 197.8C398.9 194.2 397.6 190.7 396.4 187.8C395.1 184.9 393.9 182.3 392.7 180.2C391.4 178.1 389.8 177.5 388.9 175.2C387.9 172.9 387.4 169.8 387.0 166.5C386.6 163.2 386.4 159.0 386.4 155.2C386.4 151.4 386.6 147.4 387.0 143.9C387.4 140.4 388.2 137.2 388.9 133.9C389.6 130.6 390.7 127.2 391.4 123.8C392.1 120.4 392.4 117.3 393.3 113.8C394.2 110.2 395.5 106.5 397.0 102.5C398.5 98.5 401.2 92.1 402.1 90.0"/>
<path d="M481.6 248.3C479.1 244.1 476.5 239.6 474.7 237.0C472.9 234.4 472.4 234.6 471.0 232.9C469.6 231.2 468.1 229.1 466.6 226.6C465.1 224.1 463.7 220.5 462.2 217.8C460.7 215.1 459.1 213.0 457.8 210.3C456.5 207.6 455.2 204.8 454.3 201.5C453.4 198.2 452.9 193.9 452.2 190.3C451.5 186.8 450.8 183.5 450.3 180.2C449.8 176.8 449.5 173.5 449.3 170.2C449.1 166.9 449.1 163.9 449.3 160.2C449.5 156.4 449.8 151.9 450.3 147.7C450.8 143.5 451.6 139.1 452.2 135.1C452.8 131.1 453.4 127.5 454.1 123.8C454.8 120.0 455.6 116.3 456.6 112.6C457.6 108.8 459.1 105.1 460.3 101.3C461.6 97.5 463.5 91.9 464.1 90.0"/>
<path d="M393.0 139.0C392.8 137.1 392.1 131.0 392.0 127.6C391.9 124.2 392.3 121.5 392.7 118.8C393.1 116.1 393.7 113.4 394.5 111.3C395.3 109.2 396.1 108.4 397.7 106.3C399.3 104.2 402.0 101.5 403.9 98.8C405.8 96.1 408.1 91.5 408.9 90.0"/>
<path d="M511.5 540.0C511.4 537.3 511.7 537.2 511.6 533.9C511.5 530.6 511.1 524.2 511.0 520.0C510.9 515.8 510.8 510.7 510.7 508.8"/>
</g>
<g fill="none" stroke="#6c6c6c" stroke-width="1.4" stroke-linejoin="round">
<path d="M817.4 530.9C809.5 530.2 786.2 528.0 770.0 526.5C753.8 525.0 736.7 524.4 720.0 522.0C703.3 519.6 686.7 516.0 670.0 512.0C653.3 508.0 634.2 502.5 620.0 498.0C605.8 493.5 595.0 489.3 585.0 485.0C575.0 480.7 566.8 476.5 560.0 472.0C553.2 467.5 548.4 462.8 544.0 458.0C539.6 453.2 536.1 448.2 533.5 443.0C530.9 437.8 529.8 432.8 528.5 427.0C527.2 421.2 526.7 414.2 525.5 408.0C524.3 401.8 522.8 395.5 521.5 390.0C520.2 384.5 519.0 379.5 517.5 375.0C516.0 370.5 514.1 366.4 512.5 363.0C510.9 359.6 510.2 357.6 508.0 354.8C505.8 352.0 502.1 348.7 499.2 346.0C496.3 343.3 493.8 340.9 490.4 338.5C487.0 336.1 482.9 333.5 479.1 331.6"/>
<path d="M817.4 530.9C809.5 530.1 786.2 527.6 770.0 526.0C753.8 524.4 736.5 523.6 720.0 521.0C703.5 518.4 687.3 514.7 671.0 510.5C654.7 506.3 636.0 500.6 622.0 496.0C608.0 491.4 597.0 487.3 587.0 483.0C577.0 478.7 568.8 474.5 562.0 470.0C555.2 465.5 550.4 460.8 546.0 456.0C541.6 451.2 538.0 446.2 535.5 441.0C533.0 435.8 532.2 431.0 531.0 425.0C529.8 419.0 529.8 411.0 528.5 405.0C527.2 399.0 524.3 393.9 523.0 388.9C521.7 383.9 521.8 379.2 520.5 374.8C519.2 370.4 517.6 366.1 515.5 362.3C513.4 358.6 510.9 355.9 508.0 352.3C505.1 348.8 501.2 344.8 497.9 341.0C494.5 337.2 491.2 333.2 487.9 329.7C484.6 326.1 481.2 323.0 477.9 319.7C474.5 316.4 470.3 312.0 467.8 309.7"/>
<path d="M817.4 530.9C809.5 530.0 786.4 527.3 770.3 525.4C754.1 523.6 737.0 522.4 720.5 519.5C704.0 516.7 687.6 512.4 671.3 508.1C655.0 503.8 636.7 498.3 622.8 493.8C608.9 489.3 598.0 485.4 588.0 481.2C578.1 477.0 569.9 473.0 563.0 468.6C556.2 464.2 551.3 459.8 546.9 455.0C542.5 450.2 539.0 445.2 536.6 440.0C534.2 434.9 533.5 429.9 532.4 424.0C531.4 418.1 531.5 410.6 530.2 404.7C529.0 398.8 526.4 393.8 525.0 388.7C523.6 383.6 523.3 378.7 521.8 374.0C520.4 369.4 518.5 364.8 516.2 360.8C514.0 356.8 511.3 353.7 508.3 350.0C505.4 346.4 501.8 342.5 498.4 338.7C495.1 334.9 491.8 331.0 488.4 327.5C485.0 323.9 481.0 320.0 478.0 317.5"/>
<path d="M817.4 530.9C809.5 529.9 786.2 527.1 770.1 525.0C753.9 523.0 736.9 521.6 720.5 518.6C704.2 515.6 687.9 511.2 671.8 506.8C655.7 502.5 637.8 497.0 624.0 492.5C610.2 488.1 599.2 484.2 589.2 480.0C579.2 475.8 571.0 471.8 564.0 467.4C557.0 463.0 552.0 458.6 547.4 453.8C542.9 449.0 539.3 443.9 536.8 438.6C534.3 433.4 533.6 428.3 532.5 422.4C531.4 416.6 531.2 409.2 530.1 403.5C529.0 397.7 527.2 393.0 526.0 388.0C524.9 382.9 524.5 377.9 523.2 373.1C521.9 368.4 520.3 363.6 518.2 359.5C516.1 355.4 513.4 352.1 510.4 348.4C507.4 344.8 503.7 341.3 500.2 337.5C496.6 333.8 492.9 329.7 489.3 326.0C485.6 322.2 481.7 317.9 478.2 315.0"/>
<path d="M817.4 530.9C809.5 529.9 786.1 527.0 769.8 524.8C753.6 522.7 736.5 521.1 720.1 517.9C703.6 514.7 687.0 510.1 671.0 505.7C655.0 501.2 637.5 496.0 624.0 491.4C610.4 486.9 599.5 482.8 589.7 478.4C579.8 474.1 571.6 470.0 564.6 465.4C557.6 460.8 552.3 455.8 547.6 450.7C543.0 445.7 539.4 440.6 536.9 435.3C534.4 429.9 533.5 424.6 532.5 418.8C531.5 413.0 531.7 406.2 530.9 400.7C530.2 395.3 528.8 391.0 527.9 386.1C526.9 381.3 526.6 376.3 525.2 371.7C523.9 367.0 522.3 362.3 519.9 358.1C517.5 353.8 514.3 350.1 511.1 346.2C507.8 342.2 504.1 338.2 500.5 334.2C496.9 330.3 493.0 326.1 489.2 322.5C485.4 319.0 481.5 316.2 477.7 312.9C474.0 309.7 470.3 306.6 466.6 303.0C462.9 299.4 457.6 293.3 455.8 291.4"/>
<path d="M817.4 530.9C809.6 529.8 786.3 526.4 770.3 524.1C754.3 521.9 737.4 520.3 721.2 517.4C704.9 514.4 688.6 510.6 672.7 506.4C656.8 502.1 639.5 496.7 626.0 492.1C612.5 487.5 601.6 483.1 591.7 478.7C581.8 474.2 573.5 469.8 566.5 465.2C559.5 460.6 554.3 455.8 549.7 450.9C545.2 446.0 541.8 441.0 539.4 435.9C537.1 430.7 536.5 425.5 535.6 419.8C534.7 414.2 534.7 407.5 533.8 402.1C532.9 396.6 531.5 392.2 530.2 387.2C529.0 382.1 528.0 376.8 526.3 371.8C524.7 366.9 522.8 361.8 520.4 357.4C517.9 353.1 514.8 349.4 511.6 345.5C508.4 341.6 504.8 338.0 501.2 334.2C497.6 330.5 493.7 326.6 489.8 323.0C485.8 319.4 481.7 316.2 477.7 312.7C473.7 309.1 469.6 305.5 465.8 301.6C461.9 297.8 458.1 293.2 454.6 289.3C451.2 285.5 448.2 281.7 445.0 278.6C441.7 275.4 437.7 272.5 435.3 270.2"/>
<path d="M817.4 530.9C809.5 529.8 786.1 526.6 770.0 524.3C754.0 521.9 737.3 520.2 721.2 517.0C705.1 513.8 689.1 509.6 673.4 505.0C657.7 500.5 640.5 494.8 627.1 489.9C613.6 484.9 602.6 480.2 592.5 475.4C582.5 470.6 574.0 465.7 566.9 460.9C559.7 456.1 554.2 451.3 549.7 446.5C545.2 441.8 542.0 437.4 539.7 432.5C537.5 427.7 537.1 422.7 536.3 417.5C535.4 412.3 535.6 406.3 534.7 401.3C533.9 396.3 532.5 392.2 531.1 387.4C529.7 382.5 528.3 377.3 526.4 372.4C524.6 367.6 522.5 362.6 520.0 358.0C517.6 353.4 514.6 349.0 511.6 344.7C508.6 340.4 505.5 336.3 502.0 332.2C498.6 328.0 494.9 323.6 491.0 319.7C487.1 315.9 482.8 312.5 478.7 309.0C474.6 305.4 470.5 302.1 466.5 298.4C462.4 294.6 457.5 289.6 454.6 286.7C451.7 283.8 450.9 283.3 449.0 280.9"/>
<path d="M817.4 530.9C809.4 529.7 785.8 526.3 769.7 523.9C753.6 521.5 736.9 519.7 720.8 516.5C704.7 513.4 688.5 509.5 673.0 505.0C657.4 500.6 640.9 494.8 627.6 489.8C614.4 484.8 603.4 480.0 593.5 475.0C583.6 470.1 575.2 465.1 568.0 460.2C560.8 455.2 555.1 450.2 550.5 445.4C545.9 440.6 542.7 436.1 540.5 431.3C538.3 426.4 537.9 421.2 537.2 416.1C536.5 411.0 536.8 405.3 536.3 400.4C535.8 395.5 535.3 391.5 534.3 386.6C533.2 381.7 531.8 376.1 530.0 371.0C528.2 365.9 526.2 360.6 523.5 355.8C520.9 351.0 517.2 346.4 513.8 342.1C510.5 337.7 507.1 333.8 503.3 329.6C499.5 325.5 495.3 321.2 491.2 317.2C487.1 313.3 482.8 309.7 478.6 306.0C474.4 302.3 470.2 298.9 466.0 295.1C461.9 291.3 456.6 286.1 453.7 283.1C450.9 280.1 451.3 279.6 449.0 277.1"/>
<path d="M817.4 530.9C809.5 529.6 786.1 526.0 770.2 523.4C754.3 520.8 738.0 518.7 722.1 515.4C706.3 512.1 690.4 508.1 675.1 503.6C659.8 499.2 643.4 493.5 630.3 488.5C617.1 483.5 606.0 478.6 596.0 473.6C586.0 468.7 577.3 463.7 570.0 458.7C562.7 453.7 556.7 448.6 552.1 443.8C547.4 438.9 544.3 434.5 542.1 429.6C539.9 424.7 539.6 419.4 538.9 414.4C538.3 409.4 538.5 404.2 538.1 399.5C537.6 394.8 537.3 391.0 536.1 386.1C534.9 381.2 532.9 375.3 530.8 370.0C528.8 364.8 526.6 359.3 523.8 354.3C521.0 349.3 517.4 344.4 514.1 339.9C510.8 335.4 507.6 331.5 503.9 327.3C500.2 323.1 495.9 318.7 491.7 314.8C487.5 310.9 482.8 307.5 478.4 303.8C474.1 300.1 469.8 296.6 465.5 292.6C461.3 288.6 456.3 283.3 452.9 279.6"/>
<path d="M817.4 530.9C809.5 529.5 785.9 525.4 770.0 522.5C754.1 519.6 737.8 517.1 722.0 513.5C706.2 509.9 690.2 505.6 675.0 501.0C659.8 496.4 644.0 491.0 631.0 486.0C618.0 481.0 607.0 476.0 597.0 471.0C587.0 466.0 578.3 461.0 571.0 456.0C563.7 451.0 557.6 445.8 553.0 441.0C548.4 436.2 545.5 431.8 543.5 427.0C541.5 422.2 541.5 416.8 541.0 412.0C540.5 407.2 540.8 402.5 540.5 398.0C540.2 393.5 540.2 389.9 539.0 385.0C537.8 380.1 535.2 374.1 533.0 368.6C530.8 363.2 528.4 357.5 525.5 352.3C522.6 347.1 518.9 341.9 515.5 337.3C512.1 332.7 509.2 328.9 505.4 324.7C501.6 320.5 497.3 316.1 492.9 312.2C488.5 308.2 483.6 304.8 479.0 301.0C474.4 297.2 469.8 293.8 465.3 289.6"/>
<path d="M817.4 530.9C809.5 529.4 785.9 525.1 770.0 522.0C754.1 518.9 737.8 515.8 722.0 512.0C706.2 508.2 690.0 503.8 675.0 499.0C660.0 494.2 644.8 488.3 632.0 483.0C619.2 477.7 608.0 472.2 598.0 467.0C588.0 461.8 579.3 456.8 572.0 452.0C564.7 447.2 558.5 442.5 554.0 438.0C549.5 433.5 546.8 429.5 545.0 425.0C543.2 420.5 542.8 415.5 543.0 411.0C543.2 406.5 545.0 402.3 546.0 398.0C547.0 393.7 548.6 389.4 549.0 385.0C549.4 380.6 548.9 375.3 548.4 371.4C547.9 367.5 546.9 364.6 545.8 361.5C544.7 358.4 543.5 355.9 542.0 352.8C540.5 349.7 538.8 346.2 537.0 342.7C535.2 339.1 533.2 335.2 531.4 331.5C529.6 327.8 528.0 324.0 526.3 320.2C524.6 316.4 523.2 312.2 521.3 308.9C519.4 305.5 517.6 303.2 515.1 300.1C512.6 297.0 509.2 293.9 506.3 290.1C503.4 286.4 500.2 282.2 497.5 277.6C494.8 273.0 492.6 267.4 490.0 262.5C487.4 257.6 484.2 252.6 481.6 248.3"/>
<path d="M817.4 530.9C812.8 530.2 799.6 528.5 790.0 527.0C780.4 525.5 771.0 524.0 760.0 522.0C749.0 520.0 732.5 517.4 724.0 515.2C715.5 513.0 716.7 512.5 709.0 509.0C701.3 505.5 687.4 498.6 678.0 494.0C668.6 489.4 661.3 485.9 652.9 481.5C644.5 477.1 636.1 472.5 627.8 467.7C619.4 462.9 611.1 458.2 602.8 452.6C594.4 447.0 584.8 439.9 577.7 433.8C570.6 427.8 564.4 421.6 560.2 416.3C556.0 411.0 554.8 405.7 552.7 402.0C550.6 398.3 550.1 397.5 547.8 393.9C545.5 390.2 541.5 384.1 539.0 380.1C536.5 376.1 534.6 373.7 532.7 370.1C530.8 366.6 529.8 362.8 527.7 358.8C525.6 354.8 523.1 350.5 520.2 346.3C517.3 342.1 513.6 337.4 510.2 333.8C506.8 330.2 503.4 327.7 500.0 325.0C496.6 322.3 493.7 320.4 490.0 317.7C486.3 315.0 481.8 311.9 478.0 309.0C474.2 306.1 470.8 303.2 467.0 300.0C463.2 296.8 457.0 291.7 455.0 290.0"/>
<path d="M817.4 530.9C812.8 530.1 799.6 528.1 790.0 526.0C780.4 523.9 769.2 520.8 760.0 518.0C750.8 515.2 744.2 511.7 735.0 509.0C725.8 506.3 715.0 503.6 705.0 502.0C695.0 500.4 685.0 500.2 675.0 499.5C665.0 498.8 654.2 498.9 645.0 498.0C635.8 497.1 627.8 496.3 620.0 494.0C612.2 491.7 604.7 488.0 598.0 484.0C591.3 480.0 585.5 474.8 580.0 470.0C574.5 465.2 569.7 460.3 565.0 455.0C560.3 449.7 555.3 443.8 552.0 438.0C548.7 432.2 546.3 425.5 545.0 420.0C543.7 414.5 544.0 410.3 544.0 405.0C544.0 399.7 545.5 393.8 545.0 388.0C544.5 382.2 543.0 376.0 541.0 370.0C539.0 364.0 536.5 357.7 533.0 352.0C529.5 346.3 524.7 340.7 520.0 336.0C515.3 331.3 510.0 328.0 505.0 324.0C500.0 320.0 492.5 314.0 490.0 312.0"/>
<path d="M817.4 530.9C812.0 529.9 795.4 527.5 785.0 525.0C774.6 522.5 764.2 518.5 755.0 516.0C745.8 513.5 739.2 511.7 730.0 510.0C720.8 508.3 710.0 507.5 700.0 506.0C690.0 504.5 680.0 503.3 670.0 501.0C660.0 498.7 649.7 495.5 640.0 492.0C630.3 488.5 620.3 484.3 612.0 480.0C603.7 475.7 596.7 470.7 590.0 466.0C583.3 461.3 577.5 456.7 572.0 452.0C566.5 447.3 561.2 442.8 557.0 438.0C552.8 433.2 549.3 428.0 547.0 423.0C544.7 418.0 543.7 413.2 543.0 408.0C542.3 402.8 543.7 397.5 543.0 392.0C542.3 386.5 541.0 381.0 539.0 375.0C537.0 369.0 534.3 362.0 531.0 356.0C527.7 350.0 521.0 341.8 519.0 339.0"/>
<path d="M817.4 530.9C811.2 529.8 792.9 526.8 780.0 524.0C767.1 521.2 753.3 517.5 740.0 514.0C726.7 510.5 712.5 507.0 700.0 503.0C687.5 499.0 675.0 494.2 665.0 490.0C655.0 485.8 648.3 482.0 640.0 478.0C631.7 474.0 623.0 469.7 615.0 466.0C607.0 462.3 599.2 459.2 592.0 456.0C584.8 452.8 578.0 450.2 572.0 447.0C566.0 443.8 560.3 440.7 556.0 437.0C551.7 433.3 548.3 429.5 546.0 425.0C543.7 420.5 542.8 414.5 542.0 410.0C541.2 405.5 541.2 400.0 541.0 398.0"/>
<path d="M817.4 530.9C809.4 530.4 786.0 528.2 769.7 527.9C753.4 527.5 733.0 528.6 719.7 528.7C706.4 528.8 697.7 529.5 689.9 528.5C682.1 527.4 679.5 524.9 672.7 522.4C665.9 519.8 657.0 515.8 649.2 513.4C641.4 511.0 634.0 510.0 625.8 507.9C617.5 505.8 608.6 503.7 599.8 500.8C591.1 497.9 582.1 493.5 573.2 490.6C564.2 487.7 553.7 485.1 546.0 483.5C538.3 481.9 531.4 482.2 527.2 480.9C523.0 479.6 522.4 478.0 520.9 475.8C519.3 473.6 518.5 471.6 517.8 467.8C517.1 463.9 517.0 457.2 516.5 452.7C516.0 448.2 514.7 444.1 514.7 440.8C514.8 437.6 516.4 434.4 516.8 433.1"/>
<path d="M817.4 530.9C809.6 530.5 786.8 529.0 770.7 528.8C754.6 528.5 734.2 529.5 720.8 529.4C707.4 529.3 698.4 529.6 690.3 528.1C682.2 526.6 679.2 523.3 672.2 520.3C665.1 517.2 656.2 512.7 648.2 509.7C640.2 506.7 632.6 504.4 624.2 502.5C615.8 500.5 606.7 500.0 597.8 498.0C588.9 496.0 579.9 492.6 570.9 490.7C561.8 488.7 551.1 487.7 543.6 486.2C536.1 484.7 529.9 483.5 526.1 481.6C522.2 479.6 521.8 477.3 520.5 474.6C519.2 471.8 518.7 468.8 518.1 465.0C517.5 461.1 517.4 455.5 516.9 451.4C516.4 447.3 515.2 443.2 515.1 440.4C514.9 437.6 515.8 435.7 516.0 434.7"/>
<path d="M817.4 530.9C809.4 530.4 786.0 528.6 769.6 528.1C753.3 527.7 732.6 528.4 719.1 528.2C705.5 528.0 696.5 527.9 688.3 526.7C680.1 525.4 676.8 523.2 669.7 520.8C662.5 518.4 653.6 514.6 645.6 512.3C637.6 510.0 629.9 508.9 621.6 507.0C613.4 505.0 604.8 503.1 596.3 500.5C587.8 497.9 579.3 494.0 570.7 491.4C562.2 488.8 552.2 487.0 545.0 485.0C537.9 482.9 531.5 481.6 527.6 479.4C523.7 477.2 523.1 474.6 521.6 471.7C520.1 468.7 519.4 465.3 518.7 461.7C518.0 458.0 517.8 453.5 517.3 449.9C516.7 446.3 515.3 442.7 515.3 439.9C515.3 437.1 516.8 434.3 517.1 433.1"/>
<path d="M817.4 530.9C809.5 530.2 786.1 527.2 769.8 526.4C753.6 525.6 733.2 526.3 720.0 526.2C706.7 526.1 698.8 527.1 690.4 525.8C682.0 524.5 677.3 521.2 669.5 518.3C661.7 515.4 652.2 511.2 643.6 508.4C635.0 505.6 626.3 503.4 617.8 501.4C609.2 499.4 600.7 498.5 592.3 496.4C583.8 494.3 575.3 491.0 566.8 489.0C558.3 486.9 548.2 485.8 541.4 484.0C534.5 482.2 529.1 480.4 525.7 478.0C522.3 475.7 522.1 473.1 521.0 470.1C519.9 467.2 520.0 463.9 519.2 460.3C518.5 456.7 517.3 452.2 516.5 448.7C515.7 445.2 514.8 441.7 514.5 439.2C514.1 436.7 514.4 434.7 514.4 433.8"/>
<path d="M817.4 530.9C809.4 530.3 786.1 527.9 769.7 527.3C753.3 526.6 732.7 527.2 719.1 526.9C705.6 526.7 696.8 527.0 688.4 525.7C679.9 524.5 675.6 521.9 668.2 519.4C660.7 516.9 651.8 513.2 643.5 510.8C635.3 508.3 627.3 506.8 618.9 504.9C610.5 503.0 601.6 501.5 593.1 499.2C584.5 497.0 576.0 493.6 567.6 491.3C559.1 489.0 549.1 487.9 542.2 485.6C535.4 483.3 530.2 480.5 526.7 477.5C523.3 474.5 522.8 471.1 521.5 467.5C520.3 464.0 520.1 459.3 519.2 456.0C518.4 452.7 517.1 450.4 516.3 447.7C515.5 445.0 514.4 441.5 514.3 439.6C514.2 437.6 515.6 436.5 515.9 435.8"/>
<path d="M817.4 530.9C809.4 530.2 785.9 527.5 769.7 526.7C753.4 525.8 733.1 526.3 720.0 525.9C706.8 525.5 699.0 526.1 690.8 524.6C682.6 523.0 678.1 519.4 670.8 516.3C663.5 513.2 654.8 508.9 646.8 505.9C638.8 502.8 631.3 500.4 622.7 498.1C614.2 495.7 604.5 494.3 595.5 491.9C586.5 489.5 577.7 486.1 568.9 483.7C560.0 481.3 549.5 479.5 542.6 477.5C535.7 475.6 531.0 474.1 527.7 472.0C524.4 469.8 523.8 467.4 522.6 464.8C521.4 462.2 521.1 459.3 520.3 456.3C519.5 453.4 518.6 450.2 517.8 447.3C517.0 444.4 515.7 441.2 515.5 439.1C515.4 437.0 516.7 435.6 517.0 434.8"/>
<path d="M817.4 530.9C809.4 530.2 785.9 527.4 769.6 526.5C753.2 525.5 732.8 525.7 719.5 525.2C706.2 524.6 698.1 524.6 689.7 523.1C681.3 521.6 676.5 518.8 669.0 516.1C661.5 513.5 652.9 509.7 644.8 507.1C636.7 504.4 628.8 502.5 620.5 500.4C612.2 498.4 603.5 496.9 595.2 494.6C586.9 492.4 578.9 489.3 570.8 487.1C562.8 484.9 553.8 483.4 547.0 481.3C540.2 479.2 534.0 477.0 529.9 474.5C525.7 472.0 524.2 469.1 522.0 466.3C519.9 463.4 517.9 460.5 516.9 457.2C516.0 453.8 516.5 449.5 516.2 446.3C515.9 443.1 515.1 440.0 515.0 437.9C514.9 435.9 515.5 434.7 515.6 434.0"/>
<path d="M817.4 530.9C809.5 530.0 786.2 526.7 770.1 525.8C754.1 524.9 733.9 525.4 720.9 525.6C707.9 525.7 700.8 528.2 692.3 526.6C683.8 525.0 677.8 519.9 669.8 516.1C661.8 512.3 652.8 507.4 644.2 503.7C635.7 499.9 627.2 495.9 618.7 493.5C610.1 491.0 601.4 490.7 593.0 488.9C584.6 487.2 576.5 484.6 568.4 482.8C560.4 481.0 551.0 480.0 544.6 478.3C538.3 476.5 533.6 474.6 530.3 472.4C527.0 470.3 526.2 467.8 524.8 465.3C523.4 462.8 523.1 460.7 521.9 457.7C520.7 454.7 518.7 450.4 517.5 447.3C516.4 444.2 515.2 441.0 514.9 438.8C514.6 436.7 515.4 435.1 515.5 434.3"/>
<path d="M817.4 530.9C809.3 530.1 785.6 527.1 769.1 525.8C752.5 524.5 731.8 524.3 718.2 523.3C704.5 522.3 696.1 521.8 687.3 519.9C678.6 518.0 673.3 514.9 665.6 511.9C658.0 508.9 649.4 505.0 641.3 502.0C633.2 499.1 625.1 496.6 617.0 494.3C608.9 491.9 600.6 490.4 592.7 488.1C584.9 485.8 577.3 482.8 569.9 480.5C562.4 478.2 554.2 476.3 548.0 474.3C541.7 472.3 536.3 470.7 532.5 468.7C528.7 466.6 527.2 464.3 525.2 462.0C523.3 459.8 521.8 457.9 520.5 455.2C519.2 452.5 518.4 448.7 517.6 445.8C516.7 443.0 516.1 439.8 515.4 438.1C514.7 436.5 513.7 436.4 513.3 436.1"/>
<path d="M817.4 530.9C809.5 530.0 786.0 527.0 769.7 525.6C753.5 524.3 733.0 523.9 719.8 522.7C706.5 521.6 698.8 520.9 690.1 518.9C681.3 516.9 675.2 513.8 667.2 510.8C659.1 507.9 650.4 504.1 642.0 501.1C633.6 498.2 625.1 495.7 616.8 493.3C608.6 491.0 600.2 489.4 592.4 487.1C584.5 484.9 577.0 482.1 569.6 479.8C562.1 477.6 554.0 475.7 547.8 473.6C541.7 471.6 536.5 469.7 532.8 467.6C529.0 465.4 527.5 462.9 525.4 460.6C523.3 458.3 521.7 456.4 520.5 453.8C519.2 451.2 518.6 447.5 517.8 444.8C517.1 442.1 515.8 439.2 515.7 437.6C515.6 435.9 516.9 435.3 517.2 434.9"/>
<path d="M817.4 530.9C809.5 530.1 786.1 527.5 769.8 526.1C753.5 524.8 733.0 524.2 719.5 522.8C706.0 521.3 697.8 519.8 689.0 517.7C680.2 515.6 674.4 512.8 666.7 510.0C659.0 507.3 650.7 503.7 642.7 500.9C634.7 498.1 627.0 495.8 618.7 493.5C610.5 491.1 601.4 489.2 593.1 486.9C584.9 484.5 577.2 481.7 569.5 479.4C561.8 477.1 553.2 475.1 547.1 472.8C541.0 470.5 536.4 468.1 532.9 465.5C529.3 463.0 527.8 460.1 525.8 457.5C523.8 454.9 522.4 452.6 521.1 450.1C519.7 447.6 518.7 444.7 517.8 442.4C516.9 440.2 516.0 437.4 515.5 436.4C515.1 435.4 515.1 436.3 515.0 436.3"/>
<path d="M817.4 530.9C809.5 529.9 786.4 526.7 770.1 525.1C753.7 523.6 733.0 522.9 719.3 521.5C705.5 520.2 696.6 519.1 687.7 517.1C678.7 515.1 673.2 512.3 665.6 509.5C658.1 506.8 650.1 503.3 642.3 500.6C634.5 497.8 627.2 495.5 618.9 493.1C610.6 490.7 601.0 488.6 592.7 486.2C584.3 483.8 576.4 481.0 568.6 478.6C560.8 476.2 552.1 474.1 546.0 471.7C540.0 469.3 535.8 466.8 532.3 464.2C528.8 461.6 527.1 458.6 525.1 456.1C523.1 453.6 521.7 451.1 520.2 449.0C518.8 446.8 517.3 445.1 516.4 443.2C515.4 441.4 515.0 438.8 514.4 437.6C513.8 436.4 513.0 436.4 512.7 436.2"/>
<path d="M817.4 530.9C809.4 529.8 786.0 525.8 769.6 524.1C753.2 522.4 732.5 521.7 718.9 520.7C705.3 519.6 697.1 519.4 688.0 517.8C678.9 516.2 672.5 513.4 664.6 511.0C656.6 508.5 648.3 505.4 640.2 502.9C632.1 500.5 624.0 498.8 615.9 496.2C607.7 493.6 599.1 490.4 591.3 487.4C583.5 484.3 576.3 481.1 569.2 478.1C562.1 475.0 554.3 472.0 548.7 469.2C543.1 466.4 538.8 463.9 535.4 461.2C532.0 458.5 530.2 455.5 528.2 452.9C526.1 450.3 524.8 447.8 523.1 445.9C521.5 444.0 519.6 442.9 518.3 441.4C517.1 439.9 515.9 438.0 515.6 436.7C515.3 435.5 516.5 434.4 516.7 434.0"/>
<path d="M817.4 530.9C809.6 529.8 786.3 526.2 770.3 524.3C754.3 522.5 734.2 521.4 721.2 519.8C708.3 518.2 701.7 517.2 692.8 514.8C683.9 512.4 676.1 508.6 667.6 505.3C659.2 501.9 650.6 498.0 642.0 494.7C633.5 491.3 625.0 487.6 616.4 485.2C607.9 482.8 598.8 481.9 590.6 480.2C582.5 478.5 574.9 476.6 567.5 474.9C560.2 473.2 551.9 472.2 546.3 469.9C540.7 467.5 537.0 463.9 533.8 460.8C530.6 457.8 528.8 454.4 526.9 451.6C524.9 448.8 523.5 446.2 522.0 444.1C520.5 442.0 518.9 440.7 517.9 439.2C516.8 437.7 516.2 436.1 515.5 435.1C514.8 434.1 514.1 433.4 513.9 433.0"/>
<path d="M817.4 530.9C809.4 529.7 785.6 525.8 769.2 524.0C752.8 522.2 732.3 521.4 719.0 520.2C705.7 519.1 698.5 519.2 689.6 517.3C680.6 515.4 673.3 511.9 665.2 509.0C657.1 506.0 649.0 502.6 640.9 499.6C632.8 496.7 624.8 494.1 616.5 491.3C608.2 488.5 599.0 485.6 591.0 482.8C582.9 480.0 575.6 477.2 568.4 474.4C561.2 471.6 553.4 468.5 547.8 465.9C542.3 463.4 538.6 461.3 535.2 459.1C531.8 456.8 529.8 454.1 527.6 452.2C525.4 450.2 523.7 449.2 521.9 447.3C520.2 445.4 518.2 442.8 516.9 440.8C515.7 438.9 514.7 436.9 514.7 435.8C514.6 434.8 516.4 434.7 516.7 434.4"/>
<path d="M817.4 530.9C809.6 531.2 786.8 532.8 770.7 532.6C754.6 532.4 734.2 530.5 720.8 529.6C707.4 528.6 700.5 528.7 690.4 527.0C680.3 525.2 670.3 521.5 660.4 519.1C650.5 516.6 640.8 514.4 631.1 512.2C621.3 510.1 611.6 508.4 601.8 506.4C592.0 504.5 581.7 502.3 572.5 500.6C563.3 498.8 553.5 497.5 546.5 496.0C539.5 494.5 534.7 493.4 530.6 491.4C526.4 489.4 523.8 487.1 521.6 483.8C519.4 480.6 518.3 475.9 517.3 471.7C516.3 467.5 516.2 462.9 515.8 458.6C515.4 454.4 515.3 449.9 515.0 446.1C514.7 442.3 514.2 437.7 514.0 436.0"/>
<path d="M817.4 530.9C809.5 531.3 786.3 532.8 770.2 533.1C754.1 533.3 733.8 532.3 720.8 532.3C707.7 532.2 701.6 534.1 691.8 533.0C681.9 531.9 671.8 528.4 661.5 525.8C651.3 523.2 640.8 520.1 630.4 517.5C620.0 514.9 609.6 512.6 599.3 510.2C588.9 507.7 577.5 505.0 568.1 502.8C558.8 500.7 549.7 499.1 543.0 497.3C536.3 495.4 531.7 494.0 527.7 491.6C523.8 489.2 521.4 486.4 519.4 482.9C517.3 479.4 516.2 474.5 515.4 470.5C514.6 466.5 514.6 462.9 514.4 459.0C514.2 455.1 514.4 450.8 514.3 447.0C514.2 443.3 514.0 438.4 513.9 436.7"/>
<path d="M817.4 530.9C809.7 531.4 787.0 533.6 770.9 533.8C754.8 534.0 734.4 532.8 720.9 532.1C707.4 531.5 700.1 531.7 689.8 530.0C679.5 528.4 669.2 524.8 659.1 522.3C648.9 519.7 639.0 517.1 629.0 514.8C619.0 512.4 608.9 510.4 598.9 508.3C588.9 506.1 578.0 503.5 568.9 501.8C559.8 500.1 550.9 499.4 544.3 498.2C537.7 497.0 533.3 496.3 529.4 494.5C525.6 492.7 523.4 490.7 521.4 487.6C519.4 484.5 518.5 480.0 517.4 475.8C516.4 471.6 515.8 466.9 515.3 462.4C514.8 458.0 514.8 453.2 514.6 449.1C514.4 445.0 514.2 439.6 514.1 437.7"/>
<path d="M817.4 530.9C809.4 531.5 785.8 533.8 769.6 534.2C753.3 534.6 733.0 533.7 720.0 533.2C706.9 532.7 700.9 532.8 691.2 531.3C681.4 529.7 671.6 526.3 661.7 523.8C651.7 521.3 641.6 518.7 631.5 516.4C621.4 514.1 611.4 512.1 601.3 509.9C591.3 507.8 580.4 505.2 571.2 503.5C561.9 501.9 552.6 501.3 545.7 500.1C538.8 498.9 534.0 498.2 529.8 496.4C525.6 494.6 522.9 492.6 520.6 489.4C518.3 486.2 517.1 481.5 516.0 477.2C514.9 472.8 514.5 468.0 514.2 463.4C513.8 458.9 513.9 454.1 513.9 449.9C513.9 445.7 513.9 440.1 514.0 438.2"/>
<path d="M817.4 530.9C809.5 531.4 786.3 533.5 769.9 533.8C753.6 534.1 733.0 533.2 719.3 532.6C705.7 532.1 698.4 531.8 688.2 530.3C678.0 528.9 668.0 525.9 658.1 523.8C648.2 521.7 638.5 519.5 628.7 517.6C618.9 515.7 609.1 514.2 599.3 512.4C589.5 510.7 578.9 508.9 569.9 507.2C560.8 505.6 551.6 504.2 544.8 502.6C538.1 501.0 533.3 499.9 529.2 497.6C525.0 495.4 522.3 492.8 520.1 489.3C518.0 485.9 517.0 481.1 516.0 477.0C515.1 472.9 514.8 469.1 514.5 464.8C514.1 460.6 514.3 455.8 514.2 451.5C514.2 447.2 514.3 441.3 514.3 439.2"/>
<path d="M817.4 530.9C809.5 531.8 786.4 535.2 770.3 536.1C754.1 537.0 733.8 536.7 720.6 536.5C707.4 536.2 701.0 536.0 691.1 534.4C681.2 532.8 671.2 529.3 661.3 526.7C651.5 524.2 641.6 521.5 631.7 519.1C621.9 516.7 612.0 514.7 602.1 512.4C592.2 510.2 581.8 507.4 572.5 505.8C563.2 504.2 553.6 504.0 546.5 503.0C539.3 502.0 534.1 501.5 529.6 499.8C525.1 498.2 521.8 496.3 519.3 493.2C516.9 490.2 515.8 485.7 514.9 481.5C514.0 477.3 514.1 472.6 513.9 468.0C513.8 463.3 514.0 458.2 514.1 453.5C514.2 448.9 514.3 442.4 514.4 440.2"/>
<path d="M817.4 530.9C809.4 531.7 785.6 535.0 769.2 535.9C752.8 536.9 732.3 536.7 719.1 536.5C705.8 536.2 699.4 535.8 689.6 534.4C679.8 533.0 670.0 530.1 660.1 528.2C650.1 526.2 640.0 524.3 629.9 522.6C619.9 520.9 609.9 519.6 599.8 518.1C589.8 516.5 578.9 515.0 569.7 513.5C560.5 512.0 551.4 510.6 544.4 508.9C537.5 507.3 532.5 506.2 528.2 503.9C523.9 501.6 520.8 498.9 518.4 495.3C516.1 491.8 514.9 486.9 513.9 482.5C512.9 478.1 512.7 473.7 512.6 469.1C512.5 464.4 512.8 459.2 513.1 454.5C513.4 449.8 513.9 443.1 514.1 440.8"/>
<path d="M817.4 530.9C809.5 531.6 786.3 534.2 770.1 535.1C753.9 536.0 733.6 536.1 720.3 536.2C707.1 536.3 700.7 536.4 690.7 535.6C680.7 534.7 670.7 532.5 660.6 531.0C650.5 529.4 640.2 527.7 630.1 526.3C619.9 525.0 609.8 523.9 599.6 522.7C589.5 521.5 578.5 520.5 569.2 519.1C559.8 517.6 550.5 515.9 543.4 514.1C536.4 512.4 531.1 511.0 526.6 508.6C522.0 506.1 518.6 503.2 516.1 499.4C513.6 495.7 512.3 490.6 511.5 485.9C510.7 481.2 511.1 476.3 511.3 471.3C511.5 466.3 512.1 460.9 512.6 455.9C513.0 451.0 513.8 444.0 514.1 441.6"/>
<path d="M817.4 530.9C809.4 531.8 785.9 535.1 769.6 536.2C753.4 537.4 733.1 537.7 720.0 537.7C707.0 537.7 700.9 537.3 691.2 536.1C681.4 534.9 671.5 532.3 661.5 530.5C651.5 528.6 641.2 526.5 631.0 524.7C620.8 523.0 610.7 521.6 600.5 520.0C590.3 518.4 579.2 516.9 570.0 515.2C560.8 513.6 552.0 512.0 545.2 510.2C538.4 508.5 533.4 507.1 529.1 504.6C524.8 502.1 521.8 498.9 519.4 495.2C516.9 491.5 515.7 486.4 514.6 482.4C513.4 478.3 512.6 475.1 512.3 470.8C512.0 466.5 512.4 461.5 512.7 456.7C513.0 452.0 513.9 444.7 514.1 442.3"/>
<path d="M817.4 530.9C809.5 531.9 786.2 535.7 770.0 537.0C753.7 538.3 733.2 538.8 719.9 538.6C706.5 538.5 699.8 537.4 689.8 536.1C679.8 534.8 669.8 532.4 659.9 530.7C649.9 529.1 640.0 527.5 630.1 526.1C620.2 524.7 610.3 523.7 600.4 522.5C590.4 521.3 579.8 520.2 570.6 518.9C561.4 517.5 552.4 516.1 545.4 514.5C538.4 513.0 533.2 511.8 528.7 509.5C524.1 507.1 520.8 504.2 518.2 500.6C515.6 497.1 514.2 492.5 513.0 488.3C511.8 484.1 511.3 480.1 511.1 475.3C511.0 470.6 511.6 464.9 512.0 459.7C512.5 454.4 513.7 446.4 514.0 443.7"/>
<path d="M817.4 530.9C809.5 532.0 786.3 535.9 770.1 537.3C753.9 538.6 733.5 539.3 720.3 539.0C707.1 538.8 700.5 537.2 690.6 535.9C680.7 534.6 670.8 532.5 661.0 531.1C651.1 529.7 641.3 528.6 631.4 527.6C621.6 526.6 611.7 525.9 601.9 525.1C592.0 524.3 581.4 523.6 572.3 522.6C563.2 521.6 554.1 520.4 547.1 519.1C540.1 517.8 534.8 516.8 530.3 514.8C525.7 512.7 522.3 510.2 519.6 506.6C516.8 503.0 515.4 498.0 514.0 493.1C512.6 488.2 511.5 482.7 511.1 477.2C510.8 471.7 511.3 465.8 511.8 460.3C512.3 454.7 513.6 446.7 514.0 444.0"/>
<path d="M817.4 530.9C809.6 532.1 786.6 536.5 770.4 538.1C754.2 539.7 733.7 540.8 720.2 540.8C706.7 540.7 699.5 539.3 689.4 538.0C679.2 536.7 669.2 534.5 659.2 532.8C649.3 531.1 639.6 529.4 629.8 528.0C620.0 526.6 610.2 525.5 600.4 524.2C590.6 523.0 580.2 521.5 571.0 520.5C561.9 519.5 552.7 519.1 545.6 518.2C538.4 517.3 533.0 516.7 528.2 515.0C523.5 513.3 519.8 511.1 517.0 507.9C514.3 504.6 512.9 500.3 511.7 495.7C510.6 491.1 510.2 485.8 510.2 480.4C510.2 474.9 510.9 468.7 511.6 462.9C512.3 457.0 513.7 448.3 514.1 445.4"/>
<path d="M817.4 530.9C809.5 532.0 786.1 535.7 769.8 537.3C753.5 539.0 732.9 540.4 719.5 540.9C706.0 541.3 699.2 540.9 689.1 540.1C679.1 539.4 669.2 537.7 659.3 536.3C649.4 534.9 639.6 533.1 629.8 531.7C619.9 530.3 610.1 529.2 600.3 528.0C590.4 526.8 580.1 525.5 570.7 524.4C561.4 523.2 551.8 522.4 544.3 521.1C536.9 519.9 531.1 519.0 525.9 516.9C520.8 514.8 516.6 512.2 513.6 508.7C510.5 505.1 508.8 500.4 507.8 495.8C506.9 491.2 507.4 486.3 507.8 481.0C508.3 475.6 509.4 469.5 510.4 463.6C511.4 457.8 513.3 448.9 513.9 445.9"/>
<path d="M817.4 530.9C813.3 531.5 801.2 533.2 793.0 534.5C784.8 535.8 776.3 537.1 768.0 538.5C759.7 539.9 751.3 541.5 743.0 543.0C734.7 544.5 725.3 546.3 718.0 547.5C710.7 548.7 705.2 549.3 699.0 550.2C692.8 551.1 687.8 552.7 680.5 552.7C673.2 552.7 663.8 551.5 655.4 550.2C647.0 548.9 637.7 546.5 630.4 545.1C623.1 543.7 618.9 542.6 611.6 542.0C604.3 541.4 595.9 541.1 586.5 541.4C577.1 541.7 564.6 542.8 555.2 543.9C545.8 545.0 536.4 546.8 530.1 547.7C523.8 548.6 520.7 549.5 517.6 549.5C514.5 549.5 512.6 550.1 511.3 547.7C509.9 545.3 510.3 539.5 509.5 535.0C508.7 530.5 507.5 525.0 506.3 521.0C505.1 517.0 503.1 512.7 502.5 511.0"/>
<path d="M817.4 530.9C813.3 531.8 801.2 534.2 793.0 536.0C784.8 537.8 776.3 539.6 768.0 541.5C759.7 543.4 751.3 545.8 743.0 547.5C734.7 549.2 725.3 550.7 718.0 552.0C710.7 553.3 705.2 554.0 699.0 555.2C692.8 556.4 685.7 557.9 680.5 559.0C675.3 560.1 671.8 561.5 668.0 562.1C664.2 562.7 660.9 563.0 658.0 562.7C655.1 562.4 652.3 561.5 650.4 560.2C648.5 559.0 648.4 556.9 646.7 555.2C645.0 553.5 643.1 551.7 640.4 550.2C637.7 548.7 634.2 547.5 630.4 546.4C626.6 545.3 622.0 544.4 617.8 543.9C613.6 543.4 610.5 543.2 605.3 543.3C600.1 543.4 592.8 543.8 586.5 544.5C580.2 545.2 572.9 546.7 567.7 547.7C562.5 548.8 559.0 549.9 555.2 550.8C551.5 551.7 548.3 553.2 545.2 553.3C542.1 553.4 538.7 552.2 536.4 551.4C534.1 550.6 532.4 550.2 531.4 548.3C530.4 546.4 530.7 543.2 530.1 540.2C529.5 537.2 528.3 533.2 527.6 530.1C526.9 527.0 526.2 524.3 525.7 521.4C525.2 518.5 524.9 515.7 524.5 512.6C524.1 509.5 523.8 506.4 523.2 502.6C522.6 498.8 521.8 494.4 521.0 490.0C520.2 485.6 519.2 480.7 518.5 476.0C517.8 471.3 517.1 466.7 516.5 462.0C515.9 457.3 515.2 450.3 515.0 448.0"/>
<path d="M817.4 530.9C813.3 531.9 801.2 535.0 793.0 537.0C784.8 539.0 776.3 541.0 768.0 543.0C759.7 545.0 751.3 547.4 743.0 549.0C734.7 550.6 725.3 551.7 718.0 552.5C710.7 553.3 704.2 552.9 699.0 553.9C693.8 554.9 690.7 556.9 686.8 558.3C682.9 559.7 679.0 561.1 675.5 562.1C672.0 563.1 668.9 564.0 665.5 564.0C662.1 564.0 658.3 562.7 655.4 562.1C652.5 561.5 650.4 561.2 647.9 560.2C645.4 559.2 643.3 557.6 640.4 556.4C637.5 555.1 634.2 553.7 630.4 552.7C626.6 551.7 623.0 550.7 617.8 550.2C612.6 549.7 605.2 549.1 599.0 549.5C592.8 549.9 586.5 551.7 580.3 552.7C574.0 553.8 567.4 555.2 561.5 555.8C555.6 556.4 550.0 556.6 545.2 556.4C540.4 556.2 536.4 554.8 532.6 554.6C528.8 554.4 525.2 554.4 522.6 555.2C520.0 556.0 518.7 559.1 517.0 559.6C515.3 560.1 513.4 559.9 512.6 558.3C511.8 556.7 512.2 553.2 512.0 550.2C511.8 547.2 511.6 541.7 511.5 540.0"/>
</g>
<g fill="none" stroke="#8a8400" stroke-width="1.3">
<path d="M527.1 441.7C527.6 442.9 529.2 446.6 530.2 448.9C531.2 451.1 531.9 452.9 533.4 455.2C534.9 457.5 536.8 460.4 539.0 462.8C541.2 465.2 543.8 467.7 546.6 469.7C549.4 471.7 552.9 473.2 556.0 474.7C559.1 476.2 562.4 477.4 565.5 478.5C568.6 479.6 570.8 479.7 574.9 481.3C579.0 482.9 584.6 485.4 590.0 488.0C595.4 490.6 601.7 494.7 607.0 497.0C612.3 499.3 619.2 501.2 621.6 502.0"/>
</g>
<path d="M817.4 530.9C813.7 531.1 801.1 531.8 795.4 532.1C789.6 532.4 787.1 532.6 782.9 532.7C778.7 532.8 776.7 532.9 770.4 532.5C764.1 532.1 753.6 531.0 745.3 530.5C736.9 530.0 728.2 529.9 720.3 529.6C712.4 529.3 704.0 529.3 697.7 528.7C691.4 528.1 688.6 527.2 682.7 525.8C676.9 524.4 669.3 522.3 662.6 520.5C655.9 518.7 649.7 516.7 642.6 514.9C635.5 513.1 625.8 511.0 620.0 509.5C614.2 508.0 614.0 507.5 607.8 505.8C601.6 504.1 591.1 501.5 582.8 499.5C574.4 497.5 565.2 495.5 557.7 493.9C550.2 492.3 542.3 491.2 537.7 490.1C533.1 489.0 532.5 488.2 530.2 487.0C527.9 485.8 525.7 484.3 523.9 482.6C522.1 480.9 520.8 478.8 519.5 476.9C518.2 475.0 517.1 472.6 516.4 471.3C515.7 470.0 515.3 469.2 515.1 468.8" fill="none" stroke="#8b008b" stroke-width="3.6" stroke-linejoin="round"/>
<path d="M817.4 530.9C813.7 530.5 803.2 529.0 795.4 528.3C787.6 527.6 778.8 526.5 770.4 526.5C762.0 526.5 753.6 528.0 745.3 528.1C736.9 528.2 728.6 527.6 720.3 527.3C711.9 527.0 700.6 526.9 695.2 526.5C689.8 526.1 690.2 525.7 687.7 525.0C685.2 524.3 683.1 523.2 680.2 522.1C677.3 521.0 675.1 520.1 670.1 518.3C665.1 516.5 656.8 513.5 650.1 511.4C643.4 509.3 635.0 507.1 630.0 505.8C625.0 504.5 626.2 504.7 620.4 503.3C614.6 501.9 603.6 500.0 595.3 497.6C586.9 495.2 578.6 491.3 570.3 488.8C561.9 486.3 552.7 484.2 545.2 482.8C537.7 481.4 529.1 481.2 525.1 480.1C521.1 479.0 522.3 477.8 521.4 476.3C520.5 474.8 520.0 473.1 519.5 471.3C519.0 469.5 518.4 466.6 518.2 465.7" fill="none" stroke="#000" stroke-width="3.6" stroke-linejoin="round" stroke-linecap="round"/>
</g>
<g stroke="#000" stroke-width="1.39" stroke-dasharray="1.39 1.39" fill="none">
<path d="M300.0 89.3V1052.0"/>
<path d="M740.4 89.3V1052.0"/>
<path d="M1180.7 89.3V1052.0"/>
<path d="M1621.0 89.3V1052.0"/>
<path d="M80.5 310.4H1621.6"/>
<path d="M80.5 538.7H1621.6"/>
<path d="M80.5 782.0H1621.6"/>
<path d="M80.5 1051.4H1621.6"/>
</g>
<rect x="80.5" y="89.3" width="1541.1" height="962.7" fill="none" stroke="#000" stroke-width="1.1"/>
<rect x="80.5" y="1046.8" width="6.2" height="5.3" fill="#000"/>
<rect x="1274.6" y="874.6" width="339.0" height="169.2" rx="3.5" fill="#fff" fill-opacity="0.8" stroke="#000" stroke-width="1.1"/>
<path d="M1280.8 887.4H1315.2" stroke="#707070" stroke-width="1.3"/>
<path d="M1280.8 910.5H1315.2" stroke="#ff4500" stroke-width="1.3"/>
<path d="M1280.8 933.6H1315.2" stroke="#808000" stroke-width="1.3"/>
<path d="M1280.8 957.3H1315.2" stroke="#008000" stroke-width="1.3"/>
<path d="M1279.2 980.1H1316.2" stroke="#8b008b" stroke-width="4.0"/>
<path d="M1279.2 1003.2H1316.2" stroke="#000" stroke-width="4.0"/>
<path d="M1295.3 1024.9A4.4 4.4 0 1 0 1302.0 1027.6" fill="none" stroke="#000" stroke-width="2.5"/>
<path d="M1298.2 1023.4L1304.1 1023.2L1304.2 1025.9L1303.2 1026.2L1302.9 1030.2L1300.8 1028.8L1298.4 1029.3Z" fill="#000"/>
<rect x="1665.3" y="910.75" width="20.4" height="29.45" fill="#e3eef9"/>
<rect x="1665.3" y="881.91" width="20.4" height="29.45" fill="#dceaf6"/>
<rect x="1665.3" y="853.06" width="20.4" height="29.45" fill="#d5e5f4"/>
<rect x="1665.3" y="824.22" width="20.4" height="29.45" fill="#cee0f2"/>
<rect x="1665.3" y="795.37" width="20.4" height="29.45" fill="#c7dcef"/>
<rect x="1665.3" y="766.52" width="20.4" height="29.45" fill="#bdd7ec"/>
<rect x="1665.3" y="737.68" width="20.4" height="29.45" fill="#b2d2e8"/>
<rect x="1665.3" y="708.83" width="20.4" height="29.45" fill="#a5cde3"/>
<rect x="1665.3" y="679.98" width="20.4" height="29.45" fill="#99c7e0"/>
<rect x="1665.3" y="651.14" width="20.4" height="29.45" fill="#8abfdd"/>
<rect x="1665.3" y="622.29" width="20.4" height="29.45" fill="#7cb7da"/>
<rect x="1665.3" y="593.45" width="20.4" height="29.45" fill="#6dafd7"/>
<rect x="1665.3" y="564.60" width="20.4" height="29.45" fill="#60a7d2"/>
<rect x="1665.3" y="535.75" width="20.4" height="29.45" fill="#549fcd"/>
<rect x="1665.3" y="506.91" width="20.4" height="29.45" fill="#4997c9"/>
<rect x="1665.3" y="478.06" width="20.4" height="29.45" fill="#3e8ec4"/>
<rect x="1665.3" y="449.22" width="20.4" height="29.45" fill="#3484bf"/>
<rect x="1665.3" y="420.37" width="20.4" height="29.45" fill="#2b7bba"/>
<rect x="1665.3" y="391.52" width="20.4" height="29.45" fill="#2171b5"/>
<rect x="1665.3" y="362.68" width="20.4" height="29.45" fill="#1a68ae"/>
<rect x="1665.3" y="333.83" width="20.4" height="29.45" fill="#135fa7"/>
<rect x="1665.3" y="304.98" width="20.4" height="29.45" fill="#0b559f"/>
<rect x="1665.3" y="276.14" width="20.4" height="29.45" fill="#084c95"/>
<rect x="1665.3" y="247.29" width="20.4" height="29.45" fill="#084387"/>
<rect x="1665.3" y="218.45" width="20.4" height="29.45" fill="#083979"/>
<rect x="1665.3" y="189.60" width="20.4" height="29.45" fill="#08306b"/>
<rect x="1665.3" y="189.9" width="20.4" height="750.0" fill="none" stroke="#000" stroke-width="1.1"/>
<path d="M1685.7 939.9h4.9" stroke="#000" stroke-width="1.1"/>
<path d="M1685.7 795.7h4.9" stroke="#000" stroke-width="1.1"/>
<path d="M1685.7 651.4h4.9" stroke="#000" stroke-width="1.1"/>
<path d="M1685.7 507.2h4.9" stroke="#000" stroke-width="1.1"/>
<path d="M1685.7 363.0h4.9" stroke="#000" stroke-width="1.1"/>
<path d="M1685.7 218.7h4.9" stroke="#000" stroke-width="1.1"/>
<rect x="25.3" y="1137.3" width="1640.0" height="41.1" fill="#9e0142"/>
<rect x="763.3" y="1137.3" width="492.0" height="41.1" fill="#a90d45"/>
<rect x="25.3" y="1137.3" width="1640.0" height="41.1" fill="none" stroke="#000" stroke-width="1.1"/>
<g stroke="#000" stroke-width="1.1">
<path d="M25.3 1178.4v4.9"/>
<path d="M66.3 1178.4v4.9"/>
<path d="M107.3 1178.4v4.9"/>
<path d="M148.3 1178.4v4.9"/>
<path d="M189.3 1178.4v4.9"/>
<path d="M230.3 1178.4v4.9"/>
<path d="M271.3 1178.4v4.9"/>
<path d="M312.3 1178.4v4.9"/>
<path d="M353.3 1178.4v4.9"/>
<path d="M394.3 1178.4v4.9"/>
<path d="M435.3 1178.4v4.9"/>
<path d="M476.3 1178.4v4.9"/>
<path d="M517.3 1178.4v4.9"/>
<path d="M558.3 1178.4v4.9"/>
<path d="M599.3 1178.4v4.9"/>
<path d="M640.3 1178.4v4.9"/>
<path d="M681.3 1178.4v4.9"/>
<path d="M722.3 1178.4v4.9"/>
<path d="M763.3 1178.4v4.9"/>
<path d="M804.3 1178.4v4.9"/>
<path d="M845.3 1178.4v4.9"/>
<path d="M886.3 1178.4v4.9"/>
<path d="M927.3 1178.4v4.9"/>
<path d="M968.3 1178.4v4.9"/>
<path d="M1009.3 1178.4v4.9"/>
<path d="M1050.3 1178.4v4.9"/>
<path d="M1091.3 1178.4v4.9"/>
<path d="M1132.3 1178.4v4.9"/>
<path d="M1173.3 1178.4v4.9"/>
<path d="M1214.3 1178.4v4.9"/>
<path d="M1255.3 1178.4v4.9"/>
<path d="M1296.3 1178.4v4.9"/>
<path d="M1337.3 1178.4v4.9"/>
<path d="M1378.3 1178.4v4.9"/>
<path d="M1419.3 1178.4v4.9"/>
<path d="M1460.3 1178.4v4.9"/>
<path d="M1501.3 1178.4v4.9"/>
<path d="M1542.3 1178.4v4.9"/>
<path d="M1583.3 1178.4v4.9"/>
<path d="M1624.3 1178.4v4.9"/>
<path d="M1665.3 1178.4v4.9"/>
<path d="M25.3 1158.3h-4.9"/>
</g>
</svg>
<div class="t" style="left:79.90px;top:8.00px;font-size:17.33px;font-weight:bold;transform:scaleX(1.1593);color:#000">Maximum forecast trajectory duration : 10 days</div>
<div class="t" style="left:79.90px;top:27.00px;font-size:17.33px;font-weight:bold;transform:scaleX(1.1694);color:#000">Intercept distance: 300km</div>
<div class="t" style="left:79.90px;top:47.00px;font-size:17.33px;font-weight:bold;transform:scaleX(1.1606);color:#000">Intercept RW2 (EPS):  30km/h2</div>
<div class="t" style="left:79.90px;top:66.00px;font-size:17.33px;font-weight:bold;transform:scaleX(1.1558);color:#000">Intercept RW2 (HRES): 30km/h2</div>
<div class="t" style="left:1204.40px;top:8.00px;font-size:17.33px;font-weight:bold;transform:scaleX(1.1336);color:#000">Site: Rodrigues</div>
<div class="t" style="left:1204.40px;top:27.00px;font-size:17.33px;font-weight:bold;transform:scaleX(1.1613);color:#000">Forecast date: Thu. 08/05, 00h (UTC)</div>
<div class="t" style="left:1204.40px;top:47.00px;font-size:17.33px;font-weight:bold;transform:scaleX(1.1277);color:#000">Speed function: U10_speed_Helikite_4</div>
<div class="t" style="left:1204.40px;top:66.00px;font-size:17.33px;font-weight:bold;transform:scaleX(1.1666);color:#000">Deployment date: Thu. 08/05, 14h (UTC)</div>
<div class="t" style="left:615.10px;top:25.00px;font-size:43.33px;font-weight:bold;transform:scaleX(1.1707);color:#000">Thu. 08/05, 18h (LT)</div>
<div class="t" style="left:275.07px;top:1065.00px;font-size:21.00px;font-weight:bold;transform:scaleX(1.0983);color:#000">40°E</div>
<div class="t" style="left:715.37px;top:1065.00px;font-size:21.00px;font-weight:bold;transform:scaleX(1.0983);color:#000">60°E</div>
<div class="t" style="left:1155.67px;top:1065.00px;font-size:21.00px;font-weight:bold;transform:scaleX(1.0983);color:#000">80°E</div>
<div class="t" style="left:1588.38px;top:1065.00px;font-size:21.00px;font-weight:bold;transform:scaleX(1.1115);color:#000">100°E</div>
<div class="t" style="left:11.81px;top:298.00px;font-size:21.00px;font-weight:bold;transform:scaleX(1.1142);color:#000">10°S</div>
<div class="t" style="left:11.81px;top:526.00px;font-size:21.00px;font-weight:bold;transform:scaleX(1.1142);color:#000">20°S</div>
<div class="t" style="left:11.81px;top:769.00px;font-size:21.00px;font-weight:bold;transform:scaleX(1.1142);color:#000">30°S</div>
<div class="t" style="left:1327.40px;top:879.00px;font-size:17.33px;font-weight:normal;transform:scaleX(1.0987);color:#000">No Interception</div>
<div class="t" style="left:1327.40px;top:902.00px;font-size:17.33px;font-weight:normal;transform:scaleX(1.1011);color:#000">Interception from Named cyclone</div>
<div class="t" style="left:1327.40px;top:926.00px;font-size:17.33px;font-weight:normal;transform:scaleX(1.0950);color:#000">Interception from Trochoid</div>
<div class="t" style="left:1327.40px;top:949.00px;font-size:17.33px;font-weight:normal;transform:scaleX(1.1190);color:#000">Interception from both</div>
<div class="t" style="left:1327.40px;top:972.00px;font-size:17.33px;font-weight:normal;transform:scaleX(0.9428);color:#000">HRES</div>
<div class="t" style="left:1327.40px;top:995.00px;font-size:17.33px;font-weight:normal;transform:scaleX(1.1017);color:#000">Analysis | 85h duration</div>
<div class="t" style="left:1327.40px;top:1021.00px;font-size:17.33px;font-weight:normal;transform:scaleX(1.0800);color:#000">TC obs. for analysis duration</div>
<div class="t" style="left:1695.60px;top:934.00px;font-size:14.44px;font-weight:normal;transform:scaleX(1.1044);color:#000">0</div>
<div class="t" style="left:1695.60px;top:790.00px;font-size:14.44px;font-weight:normal;transform:scaleX(1.1044);color:#000">10</div>
<div class="t" style="left:1695.60px;top:646.00px;font-size:14.44px;font-weight:normal;transform:scaleX(1.1044);color:#000">20</div>
<div class="t" style="left:1695.60px;top:501.00px;font-size:14.44px;font-weight:normal;transform:scaleX(1.1044);color:#000">30</div>
<div class="t" style="left:1695.60px;top:357.00px;font-size:14.44px;font-weight:normal;transform:scaleX(1.1044);color:#000">40</div>
<div class="t" style="left:1695.60px;top:213.00px;font-size:14.44px;font-weight:normal;transform:scaleX(1.1044);color:#000">50</div>
<div class="t" style="left:1737.80px;top:915.90px;font-size:20.61px;font-weight:bold;transform-origin:0 17.447px;transform:rotate(-90deg) scaleX(1.1201);color:#000">Named cyclones forecast - Number of EPS within 120km</div>
<div class="t" style="left:548.21px;top:1107.00px;font-size:17.33px;font-weight:bold;transform:scaleX(1.1535);color:#000">Percentage of flying ballons within a TC as a function of flight time</div>
<div class="t" style="left:15.30px;top:1187.00px;font-size:15.89px;font-weight:bold;transform:scaleX(1.1645);color:#000">0h</div>
<div class="t" style="left:173.97px;top:1187.00px;font-size:15.89px;font-weight:bold;transform:scaleX(1.1785);color:#000">12h</div>
<div class="t" style="left:337.97px;top:1187.00px;font-size:15.89px;font-weight:bold;transform:scaleX(1.1785);color:#000">24h</div>
<div class="t" style="left:501.97px;top:1187.00px;font-size:15.89px;font-weight:bold;transform:scaleX(1.1785);color:#000">36h</div>
<div class="t" style="left:665.97px;top:1187.00px;font-size:15.89px;font-weight:bold;transform:scaleX(1.1785);color:#000">48h</div>
<div class="t" style="left:829.97px;top:1187.00px;font-size:15.89px;font-weight:bold;transform:scaleX(1.1785);color:#000">60h</div>
<div class="t" style="left:993.97px;top:1187.00px;font-size:15.89px;font-weight:bold;transform:scaleX(1.1785);color:#000">72h</div>
<div class="t" style="left:1157.97px;top:1187.00px;font-size:15.89px;font-weight:bold;transform:scaleX(1.1785);color:#000">84h</div>
<div class="t" style="left:1321.97px;top:1187.00px;font-size:15.89px;font-weight:bold;transform:scaleX(1.1785);color:#000">96h</div>
<div class="t" style="left:1480.63px;top:1187.00px;font-size:15.89px;font-weight:bold;transform:scaleX(1.1856);color:#000">108h</div>
<div class="t" style="left:1644.63px;top:1187.00px;font-size:15.89px;font-weight:bold;transform:scaleX(1.1856);color:#000">120h</div>
<div class="t" style="left:779.43px;top:1151.00px;font-size:13.00px;font-weight:bold;transform:scaleX(1.2078);color:#000">2</div>
<div class="t" style="left:820.43px;top:1151.00px;font-size:13.00px;font-weight:bold;transform:scaleX(1.2078);color:#000">2</div>
<div class="t" style="left:861.43px;top:1151.00px;font-size:13.00px;font-weight:bold;transform:scaleX(1.2078);color:#000">2</div>
<div class="t" style="left:902.43px;top:1151.00px;font-size:13.00px;font-weight:bold;transform:scaleX(1.2078);color:#000">2</div>
<div class="t" style="left:943.43px;top:1151.00px;font-size:13.00px;font-weight:bold;transform:scaleX(1.2078);color:#000">2</div>
<div class="t" style="left:984.43px;top:1151.00px;font-size:13.00px;font-weight:bold;transform:scaleX(1.2078);color:#000">2</div>
<div class="t" style="left:1025.43px;top:1151.00px;font-size:13.00px;font-weight:bold;transform:scaleX(1.2078);color:#000">2</div>
<div class="t" style="left:1066.43px;top:1151.00px;font-size:13.00px;font-weight:bold;transform:scaleX(1.2078);color:#000">2</div>
<div class="t" style="left:1107.43px;top:1151.00px;font-size:13.00px;font-weight:bold;transform:scaleX(1.2078);color:#000">2</div>
<div class="t" style="left:1148.43px;top:1151.00px;font-size:13.00px;font-weight:bold;transform:scaleX(1.2078);color:#000">2</div>
<div class="t" style="left:1189.43px;top:1151.00px;font-size:13.00px;font-weight:bold;transform:scaleX(1.2078);color:#000">2</div>
<div class="t" style="left:1230.43px;top:1151.00px;font-size:13.00px;font-weight:bold;transform:scaleX(1.2078);color:#000">2</div>
</body></html>
